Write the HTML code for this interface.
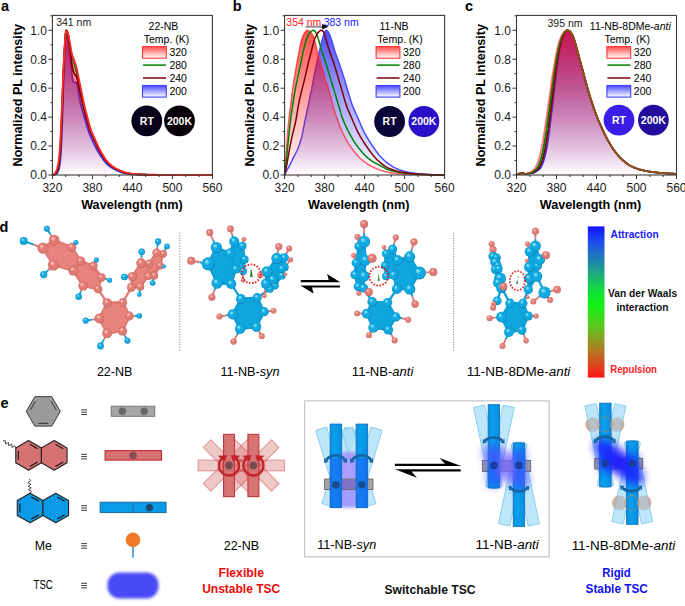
<!DOCTYPE html><html><head><meta charset="utf-8"><style>html,body{margin:0;padding:0;background:#fff;overflow:hidden;width:685px;height:606px;}svg text{font-family:"Liberation Sans",sans-serif;}</style></head><body><svg width="685" height="606" viewBox="0 0 685 606" style="display:block;font-family:'Liberation Sans',sans-serif">
<rect width="685" height="606" fill="#fff"/>
<defs>
<linearGradient id="gR" gradientUnits="userSpaceOnUse" x1="0" y1="30.30000000000001" x2="0" y2="175.0"><stop offset="0" stop-color="#ff0000" stop-opacity="0.69"/><stop offset="1" stop-color="#ff0000" stop-opacity="0.0"/></linearGradient>
<linearGradient id="gB" gradientUnits="userSpaceOnUse" x1="0" y1="30.30000000000001" x2="0" y2="175.0"><stop offset="0" stop-color="#0000ff" stop-opacity="0.69"/><stop offset="1" stop-color="#0000ff" stop-opacity="0.0"/></linearGradient>
<linearGradient id="lgR" x1="0" y1="0" x2="0" y2="1"><stop offset="0" stop-color="#ff4a4a"/><stop offset="1" stop-color="#fff"/></linearGradient>
<linearGradient id="lgB" x1="0" y1="0" x2="0" y2="1"><stop offset="0" stop-color="#4a4aff"/><stop offset="1" stop-color="#fff"/></linearGradient>
<radialGradient id="sp" cx="0.5" cy="0.5" fx="0.36" fy="0.3" r="0.55"><stop offset="0" stop-color="#ffd6ce"/><stop offset="0.42" stop-color="#e27a74"/><stop offset="0.8" stop-color="#e27a74"/><stop offset="1" stop-color="#9a4646"/></radialGradient>
<radialGradient id="sc" cx="0.5" cy="0.5" fx="0.36" fy="0.3" r="0.55"><stop offset="0" stop-color="#a0f0ff"/><stop offset="0.42" stop-color="#0fa8e0"/><stop offset="0.8" stop-color="#0fa8e0"/><stop offset="1" stop-color="#035a86"/></radialGradient>
<linearGradient id="vdw" x1="0" y1="0" x2="0" y2="1"><stop offset="0" stop-color="#1414ff"/><stop offset="0.12" stop-color="#1f55e6"/><stop offset="0.28" stop-color="#1f9a90"/><stop offset="0.42" stop-color="#12dc3c"/><stop offset="0.52" stop-color="#10f414"/><stop offset="0.66" stop-color="#5cc81e"/><stop offset="0.82" stop-color="#b27a22"/><stop offset="1" stop-color="#ff1818"/></linearGradient>
<filter id="blur1" x="-30%" y="-30%" width="160%" height="160%"><feGaussianBlur stdDeviation="1.8"/></filter>
<filter id="blur3" x="-50%" y="-50%" width="200%" height="200%"><feGaussianBlur stdDeviation="4"/></filter>
</defs>
<path d="M52.40,175.00 L53.07,174.96 L53.73,174.85 L54.40,174.71 L55.07,174.52 L55.73,174.24 L56.40,173.84 L57.07,173.17 L57.73,172.10 L58.40,170.66 L59.07,168.40 L59.73,164.87 L60.40,159.12 L61.07,150.40 L61.73,135.95 L62.40,117.12 L63.07,95.05 L63.73,73.71 L64.40,58.08 L65.07,44.77 L65.73,33.19 L66.40,30.30 L67.07,31.70 L67.73,34.64 L68.40,39.22 L69.07,45.74 L69.73,52.61 L70.40,58.98 L71.07,65.46 L71.73,72.54 L72.40,77.80 L73.07,80.94 L73.73,81.96 L74.40,82.34 L75.07,82.35 L75.73,82.25 L76.40,82.92 L77.07,84.38 L77.73,86.76 L78.40,91.53 L79.07,95.78 L79.73,99.42 L80.40,102.65 L81.07,105.45 L81.73,107.99 L82.40,110.39 L83.07,112.78 L83.73,115.19 L84.40,117.56 L85.07,119.89 L85.73,122.16 L86.40,124.36 L87.07,126.52 L87.73,128.66 L88.40,130.73 L89.07,132.69 L89.73,134.48 L90.40,136.11 L91.07,137.63 L91.73,139.06 L92.40,140.44 L93.07,141.80 L93.73,143.17 L94.40,144.56 L95.07,145.94 L95.73,147.31 L96.40,148.64 L97.07,149.92 L97.73,151.12 L98.40,152.26 L99.07,153.35 L99.73,154.40 L100.40,155.41 L101.07,156.39 L101.73,157.35 L102.40,158.30 L103.07,159.25 L103.73,160.19 L104.40,161.09 L105.07,161.94 L105.73,162.72 L106.40,163.42 L107.07,164.06 L107.73,164.66 L108.40,165.22 L109.07,165.76 L109.73,166.27 L110.40,166.75 L111.07,167.20 L111.73,167.64 L112.40,168.05 L113.07,168.45 L113.73,168.84 L114.40,169.21 L115.07,169.57 L115.73,169.91 L116.40,170.24 L117.07,170.55 L117.73,170.84 L118.40,171.12 L119.07,171.38 L119.73,171.63 L120.40,171.88 L121.07,172.12 L121.73,172.36 L122.40,172.58 L123.07,172.79 L123.73,172.98 L124.40,173.14 L125.07,173.29 L125.73,173.41 L126.40,173.51 L127.07,173.61 L127.73,173.70 L128.40,173.79 L129.07,173.87 L129.73,173.95 L130.40,174.02 L131.07,174.09 L131.73,174.15 L132.40,174.21 L133.07,174.26 L133.73,174.31 L134.40,174.35 L135.07,174.39 L135.73,174.42 L136.40,174.45 L137.07,174.48 L137.73,174.50 L138.40,174.53 L139.07,174.56 L139.73,174.58 L140.40,174.60 L141.07,174.62 L141.73,174.65 L142.40,174.67 L143.07,174.68 L143.73,174.70 L144.40,174.72 L145.07,174.74 L145.73,174.75 L146.40,174.77 L147.07,174.78 L147.73,174.79 L148.40,174.81 L149.07,174.82 L149.73,174.83 L150.40,174.83 L151.07,174.84 L151.73,174.85 L152.40,174.86 L153.07,174.86 L153.73,174.87 L154.40,174.87 L155.07,174.88 L155.73,174.88 L156.40,174.89 L157.07,174.89 L157.73,174.90 L158.40,174.90 L159.07,174.90 L159.73,174.91 L160.40,174.91 L161.07,174.92 L161.73,174.92 L162.40,174.93 L163.07,174.93 L163.73,174.93 L164.40,174.94 L165.07,174.94 L165.73,174.95 L166.40,174.95 L167.07,174.95 L167.73,174.96 L168.40,174.96 L169.07,174.96 L169.73,174.96 L170.40,174.97 L171.07,174.97 L171.73,174.97 L172.40,174.97 L173.07,174.98 L173.73,174.98 L174.40,174.98 L175.07,174.98 L175.73,174.99 L176.40,174.99 L177.07,174.99 L177.73,174.99 L178.40,174.99 L179.07,174.99 L179.73,174.99 L180.40,175.00 L181.07,175.00 L181.73,175.00 L182.40,175.00 L183.07,175.00 L183.73,175.00 L184.40,175.00 L185.07,175.00 L185.73,175.00 L186.40,175.00 L187.07,175.00 L187.73,175.00 L188.40,175.00 L189.07,175.00 L189.73,175.00 L190.40,175.00 L191.07,175.00 L191.73,175.00 L192.40,175.00 L193.07,175.00 L193.73,175.00 L194.40,175.00 L195.07,175.00 L195.73,175.00 L196.40,175.00 L197.07,175.00 L197.73,175.00 L198.40,175.00 L199.07,175.00 L199.73,175.00 L200.40,175.00 L201.07,175.00 L201.73,175.00 L202.40,175.00 L203.07,175.00 L203.73,175.00 L204.40,175.00 L205.07,175.00 L205.73,175.00 L206.40,175.00 L207.07,175.00 L207.73,175.00 L208.40,175.00 L209.07,175.00 L209.73,175.00 L210.40,175.00 L211.07,175.00 L211.73,175.00 L212.40,175.00 L212.40,175.0 L52.40,175.0 Z" fill="url(#gB)" stroke="none"/>
<path d="M52.40,175.00 L53.07,174.96 L53.73,174.85 L54.40,174.71 L55.07,174.52 L55.73,174.24 L56.40,173.84 L57.07,173.17 L57.73,172.10 L58.40,170.66 L59.07,168.40 L59.73,164.87 L60.40,159.12 L61.07,150.40 L61.73,135.95 L62.40,117.12 L63.07,95.05 L63.73,73.71 L64.40,58.08 L65.07,44.77 L65.73,33.19 L66.40,30.30 L67.07,31.70 L67.73,34.64 L68.40,39.22 L69.07,45.74 L69.73,52.61 L70.40,58.98 L71.07,65.46 L71.73,72.54 L72.40,77.80 L73.07,80.94 L73.73,81.96 L74.40,82.34 L75.07,82.35 L75.73,82.25 L76.40,82.92 L77.07,84.38 L77.73,86.76 L78.40,91.53 L79.07,95.78 L79.73,99.42 L80.40,102.65 L81.07,105.45 L81.73,107.99 L82.40,110.39 L83.07,112.78 L83.73,115.19 L84.40,117.56 L85.07,119.89 L85.73,122.16 L86.40,124.36 L87.07,126.52 L87.73,128.66 L88.40,130.73 L89.07,132.69 L89.73,134.48 L90.40,136.11 L91.07,137.63 L91.73,139.06 L92.40,140.44 L93.07,141.80 L93.73,143.17 L94.40,144.56 L95.07,145.94 L95.73,147.31 L96.40,148.64 L97.07,149.92 L97.73,151.12 L98.40,152.26 L99.07,153.35 L99.73,154.40 L100.40,155.41 L101.07,156.39 L101.73,157.35 L102.40,158.30 L103.07,159.25 L103.73,160.19 L104.40,161.09 L105.07,161.94 L105.73,162.72 L106.40,163.42 L107.07,164.06 L107.73,164.66 L108.40,165.22 L109.07,165.76 L109.73,166.27 L110.40,166.75 L111.07,167.20 L111.73,167.64 L112.40,168.05 L113.07,168.45 L113.73,168.84 L114.40,169.21 L115.07,169.57 L115.73,169.91 L116.40,170.24 L117.07,170.55 L117.73,170.84 L118.40,171.12 L119.07,171.38 L119.73,171.63 L120.40,171.88 L121.07,172.12 L121.73,172.36 L122.40,172.58 L123.07,172.79 L123.73,172.98 L124.40,173.14 L125.07,173.29 L125.73,173.41 L126.40,173.51 L127.07,173.61 L127.73,173.70 L128.40,173.79 L129.07,173.87 L129.73,173.95 L130.40,174.02 L131.07,174.09 L131.73,174.15 L132.40,174.21 L133.07,174.26 L133.73,174.31 L134.40,174.35 L135.07,174.39 L135.73,174.42 L136.40,174.45 L137.07,174.48 L137.73,174.50 L138.40,174.53 L139.07,174.56 L139.73,174.58 L140.40,174.60 L141.07,174.62 L141.73,174.65 L142.40,174.67 L143.07,174.68 L143.73,174.70 L144.40,174.72 L145.07,174.74 L145.73,174.75 L146.40,174.77 L147.07,174.78 L147.73,174.79 L148.40,174.81 L149.07,174.82 L149.73,174.83 L150.40,174.83 L151.07,174.84 L151.73,174.85 L152.40,174.86 L153.07,174.86 L153.73,174.87 L154.40,174.87 L155.07,174.88 L155.73,174.88 L156.40,174.89 L157.07,174.89 L157.73,174.90 L158.40,174.90 L159.07,174.90 L159.73,174.91 L160.40,174.91 L161.07,174.92 L161.73,174.92 L162.40,174.93 L163.07,174.93 L163.73,174.93 L164.40,174.94 L165.07,174.94 L165.73,174.95 L166.40,174.95 L167.07,174.95 L167.73,174.96 L168.40,174.96 L169.07,174.96 L169.73,174.96 L170.40,174.97 L171.07,174.97 L171.73,174.97 L172.40,174.97 L173.07,174.98 L173.73,174.98 L174.40,174.98 L175.07,174.98 L175.73,174.99 L176.40,174.99 L177.07,174.99 L177.73,174.99 L178.40,174.99 L179.07,174.99 L179.73,174.99 L180.40,175.00 L181.07,175.00 L181.73,175.00 L182.40,175.00 L183.07,175.00 L183.73,175.00 L184.40,175.00 L185.07,175.00 L185.73,175.00 L186.40,175.00 L187.07,175.00 L187.73,175.00 L188.40,175.00 L189.07,175.00 L189.73,175.00 L190.40,175.00 L191.07,175.00 L191.73,175.00 L192.40,175.00 L193.07,175.00 L193.73,175.00 L194.40,175.00 L195.07,175.00 L195.73,175.00 L196.40,175.00 L197.07,175.00 L197.73,175.00 L198.40,175.00 L199.07,175.00 L199.73,175.00 L200.40,175.00 L201.07,175.00 L201.73,175.00 L202.40,175.00 L203.07,175.00 L203.73,175.00 L204.40,175.00 L205.07,175.00 L205.73,175.00 L206.40,175.00 L207.07,175.00 L207.73,175.00 L208.40,175.00 L209.07,175.00 L209.73,175.00 L210.40,175.00 L211.07,175.00 L211.73,175.00 L212.40,175.00" fill="none" stroke="#3333ff" stroke-width="1.8" stroke-linejoin="round"/>
<path d="M52.40,175.00 L53.07,174.70 L53.73,174.28 L54.40,173.74 L55.07,173.03 L55.73,172.11 L56.40,170.75 L57.07,168.80 L57.73,166.32 L58.40,162.78 L59.07,157.64 L59.73,149.60 L60.40,138.82 L61.07,125.37 L61.73,109.89 L62.40,93.03 L63.07,76.60 L63.73,62.53 L64.40,50.56 L65.07,40.30 L65.73,33.19 L66.40,30.30 L67.07,31.00 L67.73,32.47 L68.40,34.76 L69.07,38.05 L69.73,41.62 L70.40,45.32 L71.07,49.44 L71.73,53.05 L72.40,55.49 L73.07,57.36 L73.73,59.11 L74.40,60.99 L75.07,62.82 L75.73,64.81 L76.40,67.12 L77.07,69.80 L77.73,72.86 L78.40,76.36 L79.07,79.63 L79.73,82.83 L80.40,86.08 L81.07,89.36 L81.73,92.63 L82.40,95.90 L83.07,99.23 L83.73,102.50 L84.40,105.54 L85.07,108.34 L85.73,111.00 L86.40,113.54 L87.07,116.02 L87.73,118.46 L88.40,120.91 L89.07,123.40 L89.73,125.83 L90.40,128.11 L91.07,130.14 L91.73,131.92 L92.40,133.54 L93.07,135.04 L93.73,136.49 L94.40,137.93 L95.07,139.41 L95.73,140.93 L96.40,142.46 L97.07,143.98 L97.73,145.46 L98.40,146.88 L99.07,148.23 L99.73,149.51 L100.40,150.74 L101.07,151.92 L101.73,153.07 L102.40,154.17 L103.07,155.24 L103.73,156.31 L104.40,157.37 L105.07,158.41 L105.73,159.41 L106.40,160.34 L107.07,161.21 L107.73,161.98 L108.40,162.67 L109.07,163.33 L109.73,163.95 L110.40,164.54 L111.07,165.09 L111.73,165.62 L112.40,166.12 L113.07,166.59 L113.73,167.04 L114.40,167.48 L115.07,167.90 L115.73,168.31 L116.40,168.70 L117.07,169.07 L117.73,169.43 L118.40,169.77 L119.07,170.09 L119.73,170.38 L120.40,170.66 L121.07,170.92 L121.73,171.17 L122.40,171.41 L123.07,171.65 L123.73,171.87 L124.40,172.08 L125.07,172.28 L125.73,172.46 L126.40,172.63 L127.07,172.79 L127.73,172.93 L128.40,173.06 L129.07,173.20 L129.73,173.32 L130.40,173.45 L131.07,173.56 L131.73,173.67 L132.40,173.78 L133.07,173.87 L133.73,173.95 L134.40,174.02 L135.07,174.08 L135.73,174.13 L136.40,174.17 L137.07,174.21 L137.73,174.25 L138.40,174.28 L139.07,174.31 L139.73,174.35 L140.40,174.38 L141.07,174.40 L141.73,174.43 L142.40,174.46 L143.07,174.48 L143.73,174.51 L144.40,174.53 L145.07,174.55 L145.73,174.57 L146.40,174.59 L147.07,174.60 L147.73,174.62 L148.40,174.64 L149.07,174.65 L149.73,174.66 L150.40,174.68 L151.07,174.69 L151.73,174.70 L152.40,174.71 L153.07,174.72 L153.73,174.73 L154.40,174.74 L155.07,174.75 L155.73,174.76 L156.40,174.77 L157.07,174.78 L157.73,174.79 L158.40,174.80 L159.07,174.80 L159.73,174.81 L160.40,174.82 L161.07,174.83 L161.73,174.84 L162.40,174.85 L163.07,174.85 L163.73,174.86 L164.40,174.87 L165.07,174.88 L165.73,174.88 L166.40,174.89 L167.07,174.90 L167.73,174.90 L168.40,174.91 L169.07,174.92 L169.73,174.92 L170.40,174.93 L171.07,174.94 L171.73,174.94 L172.40,174.95 L173.07,174.95 L173.73,174.96 L174.40,174.96 L175.07,174.96 L175.73,174.97 L176.40,174.97 L177.07,174.98 L177.73,174.98 L178.40,174.98 L179.07,174.99 L179.73,174.99 L180.40,174.99 L181.07,174.99 L181.73,174.99 L182.40,175.00 L183.07,175.00 L183.73,175.00 L184.40,175.00 L185.07,175.00 L185.73,175.00 L186.40,175.00 L187.07,175.00 L187.73,175.00 L188.40,175.00 L189.07,175.00 L189.73,175.00 L190.40,175.00 L191.07,175.00 L191.73,175.00 L192.40,175.00 L193.07,175.00 L193.73,175.00 L194.40,175.00 L195.07,175.00 L195.73,175.00 L196.40,175.00 L197.07,175.00 L197.73,175.00 L198.40,175.00 L199.07,175.00 L199.73,175.00 L200.40,175.00 L201.07,175.00 L201.73,175.00 L202.40,175.00 L203.07,175.00 L203.73,175.00 L204.40,175.00 L205.07,175.00 L205.73,175.00 L206.40,175.00 L207.07,175.00 L207.73,175.00 L208.40,175.00 L209.07,175.00 L209.73,175.00 L210.40,175.00 L211.07,175.00 L211.73,175.00 L212.40,175.00 L212.40,175.0 L52.40,175.0 Z" fill="url(#gR)" stroke="none"/>
<path d="M52.40,175.00 L53.07,174.82 L53.73,174.57 L54.40,174.25 L55.07,173.83 L55.73,173.26 L56.40,172.37 L57.07,171.02 L57.73,169.21 L58.40,166.33 L59.07,161.98 L59.73,155.34 L60.40,146.06 L61.07,132.97 L61.73,117.12 L62.40,99.86 L63.07,82.39 L63.73,66.05 L64.40,52.01 L65.07,40.74 L65.73,33.19 L66.40,30.30 L67.07,31.24 L67.73,33.19 L68.40,36.25 L69.07,40.51 L69.73,44.77 L70.40,49.04 L71.07,53.31 L71.73,56.35 L72.40,57.84 L73.07,59.04 L73.73,60.97 L74.40,63.68 L75.07,66.31 L75.73,68.88 L76.40,71.52 L77.07,74.20 L77.73,77.04 L78.40,80.22 L79.07,83.46 L79.73,86.55 L80.40,89.61 L81.07,92.69 L81.73,95.87 L82.40,99.20 L83.07,102.49 L83.73,105.54 L84.40,108.30 L85.07,110.90 L85.73,113.39 L86.40,115.81 L87.07,118.22 L87.73,120.68 L88.40,123.22 L89.07,125.73 L89.73,128.08 L90.40,130.14 L91.07,131.91 L91.73,133.50 L92.40,134.98 L93.07,136.39 L93.73,137.80 L94.40,139.26 L95.07,140.79 L95.73,142.35 L96.40,143.91 L97.07,145.43 L97.73,146.88 L98.40,148.23 L99.07,149.48 L99.73,150.67 L100.40,151.80 L101.07,152.90 L101.73,153.97 L102.40,155.03 L103.07,156.11 L103.73,157.19 L104.40,158.27 L105.07,159.31 L105.73,160.29 L106.40,161.19 L107.07,161.98 L107.73,162.68 L108.40,163.34 L109.07,163.96 L109.73,164.55 L110.40,165.10 L111.07,165.62 L111.73,166.12 L112.40,166.59 L113.07,167.04 L113.73,167.48 L114.40,167.89 L115.07,168.30 L115.73,168.69 L116.40,169.06 L117.07,169.41 L117.73,169.75 L118.40,170.07 L119.07,170.37 L119.73,170.66 L120.40,170.93 L121.07,171.20 L121.73,171.46 L122.40,171.71 L123.07,171.95 L123.73,172.18 L124.40,172.39 L125.07,172.58 L125.73,172.75 L126.40,172.90 L127.07,173.04 L127.73,173.17 L128.40,173.30 L129.07,173.43 L129.73,173.55 L130.40,173.66 L131.07,173.76 L131.73,173.86 L132.40,173.95 L133.07,174.04 L133.73,174.11 L134.40,174.18 L135.07,174.23 L135.73,174.28 L136.40,174.32 L137.07,174.35 L137.73,174.39 L138.40,174.43 L139.07,174.46 L139.73,174.49 L140.40,174.52 L141.07,174.55 L141.73,174.58 L142.40,174.61 L143.07,174.64 L143.73,174.66 L144.40,174.68 L145.07,174.71 L145.73,174.73 L146.40,174.75 L147.07,174.76 L147.73,174.78 L148.40,174.80 L149.07,174.81 L149.73,174.82 L150.40,174.83 L151.07,174.84 L151.73,174.85 L152.40,174.86 L153.07,174.86 L153.73,174.87 L154.40,174.87 L155.07,174.88 L155.73,174.88 L156.40,174.89 L157.07,174.89 L157.73,174.90 L158.40,174.90 L159.07,174.91 L159.73,174.91 L160.40,174.92 L161.07,174.92 L161.73,174.92 L162.40,174.93 L163.07,174.93 L163.73,174.94 L164.40,174.94 L165.07,174.94 L165.73,174.95 L166.40,174.95 L167.07,174.95 L167.73,174.96 L168.40,174.96 L169.07,174.96 L169.73,174.97 L170.40,174.97 L171.07,174.97 L171.73,174.97 L172.40,174.98 L173.07,174.98 L173.73,174.98 L174.40,174.98 L175.07,174.98 L175.73,174.99 L176.40,174.99 L177.07,174.99 L177.73,174.99 L178.40,174.99 L179.07,174.99 L179.73,175.00 L180.40,175.00 L181.07,175.00 L181.73,175.00 L182.40,175.00 L183.07,175.00 L183.73,175.00 L184.40,175.00 L185.07,175.00 L185.73,175.00 L186.40,175.00 L187.07,175.00 L187.73,175.00 L188.40,175.00 L189.07,175.00 L189.73,175.00 L190.40,175.00 L191.07,175.00 L191.73,175.00 L192.40,175.00 L193.07,175.00 L193.73,175.00 L194.40,175.00 L195.07,175.00 L195.73,175.00 L196.40,175.00 L197.07,175.00 L197.73,175.00 L198.40,175.00 L199.07,175.00 L199.73,175.00 L200.40,175.00 L201.07,175.00 L201.73,175.00 L202.40,175.00 L203.07,175.00 L203.73,175.00 L204.40,175.00 L205.07,175.00 L205.73,175.00 L206.40,175.00 L207.07,175.00 L207.73,175.00 L208.40,175.00 L209.07,175.00 L209.73,175.00 L210.40,175.00 L211.07,175.00 L211.73,175.00 L212.40,175.00" fill="none" stroke="#008000" stroke-width="1.8" stroke-linejoin="round"/>
<path d="M52.40,175.00 L53.07,174.81 L53.73,174.57 L54.40,174.30 L55.07,173.99 L55.73,173.55 L56.40,172.78 L57.07,171.56 L57.73,169.94 L58.40,167.35 L59.07,163.42 L59.73,157.48 L60.40,148.95 L61.07,136.09 L61.73,120.01 L62.40,102.14 L63.07,83.84 L63.73,66.64 L64.40,52.01 L65.07,40.69 L65.73,33.19 L66.40,30.30 L67.07,31.22 L67.73,33.19 L68.40,36.45 L69.07,40.95 L69.73,45.45 L70.40,50.40 L71.07,56.97 L71.73,64.08 L72.40,67.92 L73.07,70.62 L73.73,72.52 L74.40,73.93 L75.07,74.79 L75.73,75.30 L76.40,76.12 L77.07,78.22 L77.73,80.88 L78.40,84.10 L79.07,87.37 L79.73,90.57 L80.40,93.76 L81.07,96.86 L81.73,99.86 L82.40,102.79 L83.07,105.62 L83.73,108.33 L84.40,110.95 L85.07,113.50 L85.73,115.97 L86.40,118.39 L87.07,120.74 L87.73,123.07 L88.40,125.39 L89.07,127.63 L89.73,129.71 L90.40,131.59 L91.07,133.25 L91.73,134.75 L92.40,136.16 L93.07,137.51 L93.73,138.87 L94.40,140.27 L95.07,141.74 L95.73,143.24 L96.40,144.74 L97.07,146.22 L97.73,147.63 L98.40,148.95 L99.07,150.20 L99.73,151.39 L100.40,152.54 L101.07,153.65 L101.73,154.72 L102.40,155.75 L103.07,156.78 L103.73,157.80 L104.40,158.80 L105.07,159.76 L105.73,160.67 L106.40,161.51 L107.07,162.27 L107.73,162.96 L108.40,163.61 L109.07,164.23 L109.73,164.82 L110.40,165.37 L111.07,165.90 L111.73,166.40 L112.40,166.88 L113.07,167.33 L113.73,167.77 L114.40,168.19 L115.07,168.59 L115.73,168.98 L116.40,169.35 L117.07,169.71 L117.73,170.05 L118.40,170.37 L119.07,170.67 L119.73,170.95 L120.40,171.22 L121.07,171.48 L121.73,171.74 L122.40,171.99 L123.07,172.22 L123.73,172.44 L124.40,172.64 L125.07,172.82 L125.73,172.98 L126.40,173.12 L127.07,173.24 L127.73,173.35 L128.40,173.46 L129.07,173.57 L129.73,173.67 L130.40,173.76 L131.07,173.85 L131.73,173.93 L132.40,174.00 L133.07,174.07 L133.73,174.13 L134.40,174.19 L135.07,174.23 L135.73,174.28 L136.40,174.31 L137.07,174.35 L137.73,174.39 L138.40,174.42 L139.07,174.45 L139.73,174.49 L140.40,174.52 L141.07,174.55 L141.73,174.58 L142.40,174.60 L143.07,174.63 L143.73,174.66 L144.40,174.68 L145.07,174.70 L145.73,174.72 L146.40,174.74 L147.07,174.76 L147.73,174.78 L148.40,174.79 L149.07,174.81 L149.73,174.82 L150.40,174.83 L151.07,174.84 L151.73,174.85 L152.40,174.86 L153.07,174.86 L153.73,174.87 L154.40,174.87 L155.07,174.88 L155.73,174.88 L156.40,174.89 L157.07,174.89 L157.73,174.90 L158.40,174.90 L159.07,174.91 L159.73,174.91 L160.40,174.92 L161.07,174.92 L161.73,174.92 L162.40,174.93 L163.07,174.93 L163.73,174.94 L164.40,174.94 L165.07,174.94 L165.73,174.95 L166.40,174.95 L167.07,174.95 L167.73,174.96 L168.40,174.96 L169.07,174.96 L169.73,174.97 L170.40,174.97 L171.07,174.97 L171.73,174.97 L172.40,174.98 L173.07,174.98 L173.73,174.98 L174.40,174.98 L175.07,174.98 L175.73,174.99 L176.40,174.99 L177.07,174.99 L177.73,174.99 L178.40,174.99 L179.07,174.99 L179.73,175.00 L180.40,175.00 L181.07,175.00 L181.73,175.00 L182.40,175.00 L183.07,175.00 L183.73,175.00 L184.40,175.00 L185.07,175.00 L185.73,175.00 L186.40,175.00 L187.07,175.00 L187.73,175.00 L188.40,175.00 L189.07,175.00 L189.73,175.00 L190.40,175.00 L191.07,175.00 L191.73,175.00 L192.40,175.00 L193.07,175.00 L193.73,175.00 L194.40,175.00 L195.07,175.00 L195.73,175.00 L196.40,175.00 L197.07,175.00 L197.73,175.00 L198.40,175.00 L199.07,175.00 L199.73,175.00 L200.40,175.00 L201.07,175.00 L201.73,175.00 L202.40,175.00 L203.07,175.00 L203.73,175.00 L204.40,175.00 L205.07,175.00 L205.73,175.00 L206.40,175.00 L207.07,175.00 L207.73,175.00 L208.40,175.00 L209.07,175.00 L209.73,175.00 L210.40,175.00 L211.07,175.00 L211.73,175.00 L212.40,175.00" fill="none" stroke="#800000" stroke-width="1.8" stroke-linejoin="round"/>
<path d="M52.40,175.00 L53.07,174.70 L53.73,174.28 L54.40,173.74 L55.07,173.03 L55.73,172.11 L56.40,170.75 L57.07,168.80 L57.73,166.32 L58.40,162.78 L59.07,157.64 L59.73,149.60 L60.40,138.82 L61.07,125.37 L61.73,109.89 L62.40,93.03 L63.07,76.60 L63.73,62.53 L64.40,50.56 L65.07,40.30 L65.73,33.19 L66.40,30.30 L67.07,31.00 L67.73,32.47 L68.40,34.76 L69.07,38.05 L69.73,41.62 L70.40,45.32 L71.07,49.44 L71.73,53.05 L72.40,55.49 L73.07,57.36 L73.73,59.11 L74.40,60.99 L75.07,62.82 L75.73,64.81 L76.40,67.12 L77.07,69.80 L77.73,72.86 L78.40,76.36 L79.07,79.63 L79.73,82.83 L80.40,86.08 L81.07,89.36 L81.73,92.63 L82.40,95.90 L83.07,99.23 L83.73,102.50 L84.40,105.54 L85.07,108.34 L85.73,111.00 L86.40,113.54 L87.07,116.02 L87.73,118.46 L88.40,120.91 L89.07,123.40 L89.73,125.83 L90.40,128.11 L91.07,130.14 L91.73,131.92 L92.40,133.54 L93.07,135.04 L93.73,136.49 L94.40,137.93 L95.07,139.41 L95.73,140.93 L96.40,142.46 L97.07,143.98 L97.73,145.46 L98.40,146.88 L99.07,148.23 L99.73,149.51 L100.40,150.74 L101.07,151.92 L101.73,153.07 L102.40,154.17 L103.07,155.24 L103.73,156.31 L104.40,157.37 L105.07,158.41 L105.73,159.41 L106.40,160.34 L107.07,161.21 L107.73,161.98 L108.40,162.67 L109.07,163.33 L109.73,163.95 L110.40,164.54 L111.07,165.09 L111.73,165.62 L112.40,166.12 L113.07,166.59 L113.73,167.04 L114.40,167.48 L115.07,167.90 L115.73,168.31 L116.40,168.70 L117.07,169.07 L117.73,169.43 L118.40,169.77 L119.07,170.09 L119.73,170.38 L120.40,170.66 L121.07,170.92 L121.73,171.17 L122.40,171.41 L123.07,171.65 L123.73,171.87 L124.40,172.08 L125.07,172.28 L125.73,172.46 L126.40,172.63 L127.07,172.79 L127.73,172.93 L128.40,173.06 L129.07,173.20 L129.73,173.32 L130.40,173.45 L131.07,173.56 L131.73,173.67 L132.40,173.78 L133.07,173.87 L133.73,173.95 L134.40,174.02 L135.07,174.08 L135.73,174.13 L136.40,174.17 L137.07,174.21 L137.73,174.25 L138.40,174.28 L139.07,174.31 L139.73,174.35 L140.40,174.38 L141.07,174.40 L141.73,174.43 L142.40,174.46 L143.07,174.48 L143.73,174.51 L144.40,174.53 L145.07,174.55 L145.73,174.57 L146.40,174.59 L147.07,174.60 L147.73,174.62 L148.40,174.64 L149.07,174.65 L149.73,174.66 L150.40,174.68 L151.07,174.69 L151.73,174.70 L152.40,174.71 L153.07,174.72 L153.73,174.73 L154.40,174.74 L155.07,174.75 L155.73,174.76 L156.40,174.77 L157.07,174.78 L157.73,174.79 L158.40,174.80 L159.07,174.80 L159.73,174.81 L160.40,174.82 L161.07,174.83 L161.73,174.84 L162.40,174.85 L163.07,174.85 L163.73,174.86 L164.40,174.87 L165.07,174.88 L165.73,174.88 L166.40,174.89 L167.07,174.90 L167.73,174.90 L168.40,174.91 L169.07,174.92 L169.73,174.92 L170.40,174.93 L171.07,174.94 L171.73,174.94 L172.40,174.95 L173.07,174.95 L173.73,174.96 L174.40,174.96 L175.07,174.96 L175.73,174.97 L176.40,174.97 L177.07,174.98 L177.73,174.98 L178.40,174.98 L179.07,174.99 L179.73,174.99 L180.40,174.99 L181.07,174.99 L181.73,174.99 L182.40,175.00 L183.07,175.00 L183.73,175.00 L184.40,175.00 L185.07,175.00 L185.73,175.00 L186.40,175.00 L187.07,175.00 L187.73,175.00 L188.40,175.00 L189.07,175.00 L189.73,175.00 L190.40,175.00 L191.07,175.00 L191.73,175.00 L192.40,175.00 L193.07,175.00 L193.73,175.00 L194.40,175.00 L195.07,175.00 L195.73,175.00 L196.40,175.00 L197.07,175.00 L197.73,175.00 L198.40,175.00 L199.07,175.00 L199.73,175.00 L200.40,175.00 L201.07,175.00 L201.73,175.00 L202.40,175.00 L203.07,175.00 L203.73,175.00 L204.40,175.00 L205.07,175.00 L205.73,175.00 L206.40,175.00 L207.07,175.00 L207.73,175.00 L208.40,175.00 L209.07,175.00 L209.73,175.00 L210.40,175.00 L211.07,175.00 L211.73,175.00 L212.40,175.00" fill="none" stroke="#ff2a2a" stroke-width="1.8" stroke-linejoin="round" stroke-opacity="1.0"/>
<rect x="52.4" y="15.4" width="160" height="159.6" fill="none" stroke="#3a3a3a" stroke-width="1.1"/>
<line x1="52.40" y1="175.0" x2="52.40" y2="179.0" stroke="#333" stroke-width="1"/>
<text x="52.40" y="191.8" font-size="12" text-anchor="middle" fill="#1a1a1a">320</text>
<line x1="65.73" y1="175.0" x2="65.73" y2="177.0" stroke="#333" stroke-width="1"/>
<line x1="79.07" y1="175.0" x2="79.07" y2="177.0" stroke="#333" stroke-width="1"/>
<line x1="92.40" y1="175.0" x2="92.40" y2="179.0" stroke="#333" stroke-width="1"/>
<text x="92.40" y="191.8" font-size="12" text-anchor="middle" fill="#1a1a1a">380</text>
<line x1="105.73" y1="175.0" x2="105.73" y2="177.0" stroke="#333" stroke-width="1"/>
<line x1="119.07" y1="175.0" x2="119.07" y2="177.0" stroke="#333" stroke-width="1"/>
<line x1="132.40" y1="175.0" x2="132.40" y2="179.0" stroke="#333" stroke-width="1"/>
<text x="132.40" y="191.8" font-size="12" text-anchor="middle" fill="#1a1a1a">440</text>
<line x1="145.73" y1="175.0" x2="145.73" y2="177.0" stroke="#333" stroke-width="1"/>
<line x1="159.07" y1="175.0" x2="159.07" y2="177.0" stroke="#333" stroke-width="1"/>
<line x1="172.40" y1="175.0" x2="172.40" y2="179.0" stroke="#333" stroke-width="1"/>
<text x="172.40" y="191.8" font-size="12" text-anchor="middle" fill="#1a1a1a">500</text>
<line x1="185.73" y1="175.0" x2="185.73" y2="177.0" stroke="#333" stroke-width="1"/>
<line x1="199.07" y1="175.0" x2="199.07" y2="177.0" stroke="#333" stroke-width="1"/>
<line x1="212.40" y1="175.0" x2="212.40" y2="179.0" stroke="#333" stroke-width="1"/>
<text x="212.40" y="191.8" font-size="12" text-anchor="middle" fill="#1a1a1a">560</text>
<line x1="48.4" y1="175.00" x2="52.4" y2="175.00" stroke="#333" stroke-width="1"/>
<text x="46.9" y="179.30" font-size="12" text-anchor="end" fill="#1a1a1a">0.0</text>
<line x1="50.4" y1="160.53" x2="52.4" y2="160.53" stroke="#333" stroke-width="1"/>
<line x1="48.4" y1="146.06" x2="52.4" y2="146.06" stroke="#333" stroke-width="1"/>
<text x="46.9" y="150.36" font-size="12" text-anchor="end" fill="#1a1a1a">0.2</text>
<line x1="50.4" y1="131.59" x2="52.4" y2="131.59" stroke="#333" stroke-width="1"/>
<line x1="48.4" y1="117.12" x2="52.4" y2="117.12" stroke="#333" stroke-width="1"/>
<text x="46.9" y="121.42" font-size="12" text-anchor="end" fill="#1a1a1a">0.4</text>
<line x1="50.4" y1="102.65" x2="52.4" y2="102.65" stroke="#333" stroke-width="1"/>
<line x1="48.4" y1="88.18" x2="52.4" y2="88.18" stroke="#333" stroke-width="1"/>
<text x="46.9" y="92.48" font-size="12" text-anchor="end" fill="#1a1a1a">0.6</text>
<line x1="50.4" y1="73.71" x2="52.4" y2="73.71" stroke="#333" stroke-width="1"/>
<line x1="48.4" y1="59.24" x2="52.4" y2="59.24" stroke="#333" stroke-width="1"/>
<text x="46.9" y="63.54" font-size="12" text-anchor="end" fill="#1a1a1a">0.8</text>
<line x1="50.4" y1="44.77" x2="52.4" y2="44.77" stroke="#333" stroke-width="1"/>
<line x1="48.4" y1="30.30" x2="52.4" y2="30.30" stroke="#333" stroke-width="1"/>
<text x="46.9" y="34.60" font-size="12" text-anchor="end" fill="#1a1a1a">1.0</text>
<line x1="50.4" y1="15.83" x2="52.4" y2="15.83" stroke="#333" stroke-width="1"/>
<text x="131.9" y="209" font-size="12.6" text-anchor="middle" font-weight="bold" fill="#000" textLength="101.5" lengthAdjust="spacingAndGlyphs">Wavelength (nm)</text>
<text x="0" y="0" font-size="12.6" font-weight="bold" text-anchor="middle" textLength="142.5" lengthAdjust="spacingAndGlyphs" transform="translate(21.9,95.2) rotate(-90)">Normalized PL intensity</text>
<text x="0.8999999999999986" y="10.8" font-size="14.5" font-weight="bold" fill="#000">a</text>
<text x="56.2" y="25.8" font-size="10.5" fill="#1a1a1a">341 nm</text>
<text x="163.5" y="30" font-size="10.5" text-anchor="middle">22-NB</text>
<text x="166.5" y="43.0" font-size="10.5" text-anchor="middle" fill="#000">Temp. (K)</text>
<rect x="142.5" y="46.6" width="23.8" height="11.6" fill="url(#lgR)" stroke="#ff3a3a" stroke-width="1.1"/>
<text x="169.4" y="56.0" font-size="10.5" fill="#000">320</text>
<line x1="143.0" y1="65.1" x2="166.0" y2="65.1" stroke="#008000" stroke-width="1.5"/>
<text x="169.4" y="68.9" font-size="10.5" fill="#000">280</text>
<line x1="143.0" y1="78.0" x2="166.0" y2="78.0" stroke="#800000" stroke-width="1.5"/>
<text x="169.4" y="81.8" font-size="10.5" fill="#000">240</text>
<rect x="142.5" y="85.5" width="23.8" height="11.6" fill="url(#lgB)" stroke="#4040ff" stroke-width="1.1"/>
<text x="169.4" y="95.0" font-size="10.5" fill="#000">200</text>
<circle cx="146.8" cy="120.8" r="15.4" fill="#07021a"/>
<text x="146.8" y="124.7" font-size="10.5" text-anchor="middle" font-weight="bold" fill="#fff">RT</text>
<circle cx="179.5" cy="120.8" r="15.4" fill="#050006"/>
<text x="179.5" y="124.7" font-size="10.5" text-anchor="middle" font-weight="bold" fill="#fff">200K</text>
<path d="M284.60,175.00 L285.27,173.49 L285.93,172.06 L286.60,170.74 L287.27,169.55 L287.93,168.43 L288.60,167.32 L289.27,166.16 L289.93,164.90 L290.60,163.49 L291.27,162.00 L291.93,160.50 L292.60,159.08 L293.27,157.79 L293.93,156.58 L294.60,155.41 L295.27,154.22 L295.93,152.96 L296.60,151.57 L297.27,150.05 L297.93,148.44 L298.60,146.73 L299.27,144.91 L299.93,142.95 L300.60,140.84 L301.27,138.55 L301.93,136.02 L302.60,132.90 L303.27,129.37 L303.93,125.77 L304.60,122.41 L305.27,119.26 L305.93,116.18 L306.60,113.12 L307.27,110.02 L307.93,106.83 L308.60,103.52 L309.27,100.20 L309.93,96.96 L310.60,93.97 L311.27,91.07 L311.93,87.67 L312.60,83.96 L313.27,80.23 L313.93,76.75 L314.60,73.44 L315.27,70.23 L315.93,67.08 L316.60,63.97 L317.27,60.89 L317.93,57.85 L318.60,54.87 L319.27,51.99 L319.93,49.19 L320.60,46.42 L321.27,43.72 L321.93,41.14 L322.60,38.72 L323.27,36.36 L323.93,34.11 L324.60,32.47 L325.27,31.34 L325.93,30.51 L326.60,30.33 L327.27,30.80 L327.93,31.60 L328.60,32.54 L329.27,33.88 L329.93,35.54 L330.60,37.35 L331.27,39.20 L331.93,41.26 L332.60,43.51 L333.27,45.84 L333.93,48.16 L334.60,50.38 L335.27,52.43 L335.93,54.37 L336.60,56.24 L337.27,58.08 L337.93,59.90 L338.60,61.74 L339.27,63.63 L339.93,65.57 L340.60,67.54 L341.27,69.52 L341.93,71.53 L342.60,73.57 L343.27,75.65 L343.93,77.76 L344.60,79.94 L345.27,82.19 L345.93,84.47 L346.60,86.76 L347.27,89.02 L347.93,91.24 L348.60,93.48 L349.27,95.74 L349.93,97.97 L350.60,100.14 L351.27,102.19 L351.93,104.10 L352.60,105.86 L353.27,107.52 L353.93,109.10 L354.60,110.62 L355.27,112.10 L355.93,113.56 L356.60,115.02 L357.27,116.49 L357.93,117.99 L358.60,119.53 L359.27,121.10 L359.93,122.68 L360.60,124.27 L361.27,125.83 L361.93,127.36 L362.60,128.86 L363.27,130.29 L363.93,131.65 L364.60,132.93 L365.27,134.17 L365.93,135.38 L366.60,136.55 L367.27,137.70 L367.93,138.81 L368.60,139.90 L369.27,140.97 L369.93,142.02 L370.60,143.05 L371.27,144.06 L371.93,145.07 L372.60,146.06 L373.27,147.05 L373.93,148.03 L374.60,149.00 L375.27,149.95 L375.93,150.89 L376.60,151.81 L377.27,152.71 L377.93,153.58 L378.60,154.41 L379.27,155.21 L379.93,155.97 L380.60,156.70 L381.27,157.41 L381.93,158.11 L382.60,158.79 L383.27,159.45 L383.93,160.08 L384.60,160.70 L385.27,161.29 L385.93,161.86 L386.60,162.41 L387.27,162.93 L387.93,163.42 L388.60,163.90 L389.27,164.37 L389.93,164.83 L390.60,165.28 L391.27,165.71 L391.93,166.14 L392.60,166.55 L393.27,166.94 L393.93,167.32 L394.60,167.69 L395.27,168.03 L395.93,168.36 L396.60,168.67 L397.27,168.95 L397.93,169.21 L398.60,169.46 L399.27,169.70 L399.93,169.94 L400.60,170.17 L401.27,170.39 L401.93,170.61 L402.60,170.82 L403.27,171.02 L403.93,171.22 L404.60,171.41 L405.27,171.59 L405.93,171.76 L406.60,171.93 L407.27,172.08 L407.93,172.23 L408.60,172.37 L409.27,172.50 L409.93,172.62 L410.60,172.73 L411.27,172.83 L411.93,172.92 L412.60,173.02 L413.27,173.10 L413.93,173.19 L414.60,173.27 L415.27,173.36 L415.93,173.43 L416.60,173.51 L417.27,173.58 L417.93,173.65 L418.60,173.72 L419.27,173.79 L419.93,173.85 L420.60,173.91 L421.27,173.97 L421.93,174.02 L422.60,174.08 L423.27,174.13 L423.93,174.18 L424.60,174.22 L425.27,174.27 L425.93,174.31 L426.60,174.35 L427.27,174.39 L427.93,174.42 L428.60,174.46 L429.27,174.49 L429.93,174.52 L430.60,174.56 L431.27,174.59 L431.93,174.62 L432.60,174.65 L433.27,174.68 L433.93,174.71 L434.60,174.74 L435.27,174.77 L435.93,174.79 L436.60,174.82 L437.27,174.84 L437.93,174.87 L438.60,174.89 L439.27,174.91 L439.93,174.93 L440.60,174.94 L441.27,174.96 L441.93,174.97 L442.60,174.98 L443.27,174.99 L443.93,175.00 L444.60,175.00 L444.60,175.0 L284.60,175.0 Z" fill="url(#gB)" stroke="none"/>
<path d="M284.60,175.00 L285.27,173.49 L285.93,172.06 L286.60,170.74 L287.27,169.55 L287.93,168.43 L288.60,167.32 L289.27,166.16 L289.93,164.90 L290.60,163.49 L291.27,162.00 L291.93,160.50 L292.60,159.08 L293.27,157.79 L293.93,156.58 L294.60,155.41 L295.27,154.22 L295.93,152.96 L296.60,151.57 L297.27,150.05 L297.93,148.44 L298.60,146.73 L299.27,144.91 L299.93,142.95 L300.60,140.84 L301.27,138.55 L301.93,136.02 L302.60,132.90 L303.27,129.37 L303.93,125.77 L304.60,122.41 L305.27,119.26 L305.93,116.18 L306.60,113.12 L307.27,110.02 L307.93,106.83 L308.60,103.52 L309.27,100.20 L309.93,96.96 L310.60,93.97 L311.27,91.07 L311.93,87.67 L312.60,83.96 L313.27,80.23 L313.93,76.75 L314.60,73.44 L315.27,70.23 L315.93,67.08 L316.60,63.97 L317.27,60.89 L317.93,57.85 L318.60,54.87 L319.27,51.99 L319.93,49.19 L320.60,46.42 L321.27,43.72 L321.93,41.14 L322.60,38.72 L323.27,36.36 L323.93,34.11 L324.60,32.47 L325.27,31.34 L325.93,30.51 L326.60,30.33 L327.27,30.80 L327.93,31.60 L328.60,32.54 L329.27,33.88 L329.93,35.54 L330.60,37.35 L331.27,39.20 L331.93,41.26 L332.60,43.51 L333.27,45.84 L333.93,48.16 L334.60,50.38 L335.27,52.43 L335.93,54.37 L336.60,56.24 L337.27,58.08 L337.93,59.90 L338.60,61.74 L339.27,63.63 L339.93,65.57 L340.60,67.54 L341.27,69.52 L341.93,71.53 L342.60,73.57 L343.27,75.65 L343.93,77.76 L344.60,79.94 L345.27,82.19 L345.93,84.47 L346.60,86.76 L347.27,89.02 L347.93,91.24 L348.60,93.48 L349.27,95.74 L349.93,97.97 L350.60,100.14 L351.27,102.19 L351.93,104.10 L352.60,105.86 L353.27,107.52 L353.93,109.10 L354.60,110.62 L355.27,112.10 L355.93,113.56 L356.60,115.02 L357.27,116.49 L357.93,117.99 L358.60,119.53 L359.27,121.10 L359.93,122.68 L360.60,124.27 L361.27,125.83 L361.93,127.36 L362.60,128.86 L363.27,130.29 L363.93,131.65 L364.60,132.93 L365.27,134.17 L365.93,135.38 L366.60,136.55 L367.27,137.70 L367.93,138.81 L368.60,139.90 L369.27,140.97 L369.93,142.02 L370.60,143.05 L371.27,144.06 L371.93,145.07 L372.60,146.06 L373.27,147.05 L373.93,148.03 L374.60,149.00 L375.27,149.95 L375.93,150.89 L376.60,151.81 L377.27,152.71 L377.93,153.58 L378.60,154.41 L379.27,155.21 L379.93,155.97 L380.60,156.70 L381.27,157.41 L381.93,158.11 L382.60,158.79 L383.27,159.45 L383.93,160.08 L384.60,160.70 L385.27,161.29 L385.93,161.86 L386.60,162.41 L387.27,162.93 L387.93,163.42 L388.60,163.90 L389.27,164.37 L389.93,164.83 L390.60,165.28 L391.27,165.71 L391.93,166.14 L392.60,166.55 L393.27,166.94 L393.93,167.32 L394.60,167.69 L395.27,168.03 L395.93,168.36 L396.60,168.67 L397.27,168.95 L397.93,169.21 L398.60,169.46 L399.27,169.70 L399.93,169.94 L400.60,170.17 L401.27,170.39 L401.93,170.61 L402.60,170.82 L403.27,171.02 L403.93,171.22 L404.60,171.41 L405.27,171.59 L405.93,171.76 L406.60,171.93 L407.27,172.08 L407.93,172.23 L408.60,172.37 L409.27,172.50 L409.93,172.62 L410.60,172.73 L411.27,172.83 L411.93,172.92 L412.60,173.02 L413.27,173.10 L413.93,173.19 L414.60,173.27 L415.27,173.36 L415.93,173.43 L416.60,173.51 L417.27,173.58 L417.93,173.65 L418.60,173.72 L419.27,173.79 L419.93,173.85 L420.60,173.91 L421.27,173.97 L421.93,174.02 L422.60,174.08 L423.27,174.13 L423.93,174.18 L424.60,174.22 L425.27,174.27 L425.93,174.31 L426.60,174.35 L427.27,174.39 L427.93,174.42 L428.60,174.46 L429.27,174.49 L429.93,174.52 L430.60,174.56 L431.27,174.59 L431.93,174.62 L432.60,174.65 L433.27,174.68 L433.93,174.71 L434.60,174.74 L435.27,174.77 L435.93,174.79 L436.60,174.82 L437.27,174.84 L437.93,174.87 L438.60,174.89 L439.27,174.91 L439.93,174.93 L440.60,174.94 L441.27,174.96 L441.93,174.97 L442.60,174.98 L443.27,174.99 L443.93,175.00 L444.60,175.00" fill="none" stroke="#4a4aff" stroke-width="1.5" stroke-linejoin="round"/>
<path d="M284.60,175.00 L285.27,165.16 L285.93,156.38 L286.60,147.38 L287.27,137.96 L287.93,129.59 L288.60,122.24 L289.27,116.13 L289.93,110.66 L290.60,105.66 L291.27,100.13 L291.93,94.37 L292.60,89.47 L293.27,85.08 L293.93,80.90 L294.60,76.72 L295.27,72.63 L295.93,68.66 L296.60,64.80 L297.27,61.04 L297.93,57.38 L298.60,53.85 L299.27,50.34 L299.93,46.77 L300.60,43.43 L301.27,40.67 L301.93,38.59 L302.60,36.80 L303.27,35.27 L303.93,34.01 L304.60,32.99 L305.27,32.01 L305.93,31.15 L306.60,30.53 L307.27,30.30 L307.93,30.40 L308.60,30.66 L309.27,31.04 L309.93,31.50 L310.60,32.04 L311.27,32.84 L311.93,33.91 L312.60,35.20 L313.27,36.66 L313.93,38.26 L314.60,40.30 L315.27,42.92 L315.93,45.85 L316.60,48.78 L317.27,51.43 L317.93,53.75 L318.60,55.96 L319.27,58.09 L319.93,60.21 L320.60,62.36 L321.27,64.59 L321.93,66.94 L322.60,69.37 L323.27,71.83 L323.93,74.26 L324.60,76.62 L325.27,78.86 L325.93,80.97 L326.60,83.01 L327.27,85.03 L327.93,87.09 L328.60,89.23 L329.27,91.52 L329.93,93.97 L330.60,96.53 L331.27,99.12 L331.93,101.67 L332.60,104.10 L333.27,106.44 L333.93,108.76 L334.60,111.04 L335.27,113.25 L335.93,115.38 L336.60,117.40 L337.27,119.32 L337.93,121.19 L338.60,123.01 L339.27,124.76 L339.93,126.46 L340.60,128.10 L341.27,129.67 L341.93,131.16 L342.60,132.59 L343.27,133.97 L343.93,135.31 L344.60,136.61 L345.27,137.88 L345.93,139.11 L346.60,140.30 L347.27,141.46 L347.93,142.57 L348.60,143.64 L349.27,144.68 L349.93,145.67 L350.60,146.63 L351.27,147.58 L351.93,148.51 L352.60,149.43 L353.27,150.33 L353.93,151.21 L354.60,152.08 L355.27,152.92 L355.93,153.74 L356.60,154.54 L357.27,155.32 L357.93,156.07 L358.60,156.79 L359.27,157.48 L359.93,158.14 L360.60,158.77 L361.27,159.37 L361.93,159.93 L362.60,160.47 L363.27,160.99 L363.93,161.49 L364.60,161.99 L365.27,162.47 L365.93,162.94 L366.60,163.39 L367.27,163.84 L367.93,164.27 L368.60,164.69 L369.27,165.09 L369.93,165.48 L370.60,165.86 L371.27,166.23 L371.93,166.58 L372.60,166.92 L373.27,167.24 L373.93,167.56 L374.60,167.85 L375.27,168.14 L375.93,168.41 L376.60,168.67 L377.27,168.93 L377.93,169.18 L378.60,169.43 L379.27,169.67 L379.93,169.91 L380.60,170.15 L381.27,170.37 L381.93,170.60 L382.60,170.81 L383.27,171.02 L383.93,171.22 L384.60,171.42 L385.27,171.60 L385.93,171.78 L386.60,171.95 L387.27,172.11 L387.93,172.25 L388.60,172.39 L389.27,172.52 L389.93,172.63 L390.60,172.74 L391.27,172.83 L391.93,172.91 L392.60,173.00 L393.27,173.08 L393.93,173.15 L394.60,173.23 L395.27,173.30 L395.93,173.37 L396.60,173.44 L397.27,173.51 L397.93,173.58 L398.60,173.64 L399.27,173.70 L399.93,173.76 L400.60,173.82 L401.27,173.87 L401.93,173.92 L402.60,173.97 L403.27,174.02 L403.93,174.07 L404.60,174.11 L405.27,174.15 L405.93,174.19 L406.60,174.23 L407.27,174.26 L407.93,174.29 L408.60,174.32 L409.27,174.35 L409.93,174.38 L410.60,174.40 L411.27,174.42 L411.93,174.44 L412.60,174.46 L413.27,174.48 L413.93,174.50 L414.60,174.52 L415.27,174.54 L415.93,174.56 L416.60,174.57 L417.27,174.59 L417.93,174.61 L418.60,174.63 L419.27,174.64 L419.93,174.66 L420.60,174.68 L421.27,174.69 L421.93,174.71 L422.60,174.73 L423.27,174.74 L423.93,174.76 L424.60,174.77 L425.27,174.78 L425.93,174.80 L426.60,174.81 L427.27,174.82 L427.93,174.84 L428.60,174.85 L429.27,174.86 L429.93,174.87 L430.60,174.88 L431.27,174.89 L431.93,174.90 L432.60,174.91 L433.27,174.92 L433.93,174.93 L434.60,174.94 L435.27,174.95 L435.93,174.95 L436.60,174.96 L437.27,174.97 L437.93,174.97 L438.60,174.98 L439.27,174.98 L439.93,174.99 L440.60,174.99 L441.27,174.99 L441.93,175.00 L442.60,175.00 L443.27,175.00 L443.93,175.00 L444.60,175.00 L444.60,175.0 L284.60,175.0 Z" fill="url(#gR)" stroke="none"/>
<path d="M284.60,175.00 L285.27,165.16 L285.93,156.38 L286.60,147.38 L287.27,137.96 L287.93,129.59 L288.60,122.24 L289.27,116.13 L289.93,110.66 L290.60,105.66 L291.27,100.13 L291.93,94.37 L292.60,89.47 L293.27,85.08 L293.93,80.90 L294.60,76.72 L295.27,72.63 L295.93,68.66 L296.60,64.80 L297.27,61.04 L297.93,57.38 L298.60,53.85 L299.27,50.34 L299.93,46.77 L300.60,43.43 L301.27,40.67 L301.93,38.59 L302.60,36.80 L303.27,35.27 L303.93,34.01 L304.60,32.99 L305.27,32.01 L305.93,31.15 L306.60,30.53 L307.27,30.30 L307.93,30.40 L308.60,30.66 L309.27,31.04 L309.93,31.50 L310.60,32.04 L311.27,32.84 L311.93,33.91 L312.60,35.20 L313.27,36.66 L313.93,38.26 L314.60,40.30 L315.27,42.92 L315.93,45.85 L316.60,48.78 L317.27,51.43 L317.93,53.75 L318.60,55.96 L319.27,58.09 L319.93,60.21 L320.60,62.36 L321.27,64.59 L321.93,66.94 L322.60,69.37 L323.27,71.83 L323.93,74.26 L324.60,76.62 L325.27,78.86 L325.93,80.97 L326.60,83.01 L327.27,85.03 L327.93,87.09 L328.60,89.23 L329.27,91.52 L329.93,93.97 L330.60,96.53 L331.27,99.12 L331.93,101.67 L332.60,104.10 L333.27,106.44 L333.93,108.76 L334.60,111.04 L335.27,113.25 L335.93,115.38 L336.60,117.40 L337.27,119.32 L337.93,121.19 L338.60,123.01 L339.27,124.76 L339.93,126.46 L340.60,128.10 L341.27,129.67 L341.93,131.16 L342.60,132.59 L343.27,133.97 L343.93,135.31 L344.60,136.61 L345.27,137.88 L345.93,139.11 L346.60,140.30 L347.27,141.46 L347.93,142.57 L348.60,143.64 L349.27,144.68 L349.93,145.67 L350.60,146.63 L351.27,147.58 L351.93,148.51 L352.60,149.43 L353.27,150.33 L353.93,151.21 L354.60,152.08 L355.27,152.92 L355.93,153.74 L356.60,154.54 L357.27,155.32 L357.93,156.07 L358.60,156.79 L359.27,157.48 L359.93,158.14 L360.60,158.77 L361.27,159.37 L361.93,159.93 L362.60,160.47 L363.27,160.99 L363.93,161.49 L364.60,161.99 L365.27,162.47 L365.93,162.94 L366.60,163.39 L367.27,163.84 L367.93,164.27 L368.60,164.69 L369.27,165.09 L369.93,165.48 L370.60,165.86 L371.27,166.23 L371.93,166.58 L372.60,166.92 L373.27,167.24 L373.93,167.56 L374.60,167.85 L375.27,168.14 L375.93,168.41 L376.60,168.67 L377.27,168.93 L377.93,169.18 L378.60,169.43 L379.27,169.67 L379.93,169.91 L380.60,170.15 L381.27,170.37 L381.93,170.60 L382.60,170.81 L383.27,171.02 L383.93,171.22 L384.60,171.42 L385.27,171.60 L385.93,171.78 L386.60,171.95 L387.27,172.11 L387.93,172.25 L388.60,172.39 L389.27,172.52 L389.93,172.63 L390.60,172.74 L391.27,172.83 L391.93,172.91 L392.60,173.00 L393.27,173.08 L393.93,173.15 L394.60,173.23 L395.27,173.30 L395.93,173.37 L396.60,173.44 L397.27,173.51 L397.93,173.58 L398.60,173.64 L399.27,173.70 L399.93,173.76 L400.60,173.82 L401.27,173.87 L401.93,173.92 L402.60,173.97 L403.27,174.02 L403.93,174.07 L404.60,174.11 L405.27,174.15 L405.93,174.19 L406.60,174.23 L407.27,174.26 L407.93,174.29 L408.60,174.32 L409.27,174.35 L409.93,174.38 L410.60,174.40 L411.27,174.42 L411.93,174.44 L412.60,174.46 L413.27,174.48 L413.93,174.50 L414.60,174.52 L415.27,174.54 L415.93,174.56 L416.60,174.57 L417.27,174.59 L417.93,174.61 L418.60,174.63 L419.27,174.64 L419.93,174.66 L420.60,174.68 L421.27,174.69 L421.93,174.71 L422.60,174.73 L423.27,174.74 L423.93,174.76 L424.60,174.77 L425.27,174.78 L425.93,174.80 L426.60,174.81 L427.27,174.82 L427.93,174.84 L428.60,174.85 L429.27,174.86 L429.93,174.87 L430.60,174.88 L431.27,174.89 L431.93,174.90 L432.60,174.91 L433.27,174.92 L433.93,174.93 L434.60,174.94 L435.27,174.95 L435.93,174.95 L436.60,174.96 L437.27,174.97 L437.93,174.97 L438.60,174.98 L439.27,174.98 L439.93,174.99 L440.60,174.99 L441.27,174.99 L441.93,175.00 L442.60,175.00 L443.27,175.00 L443.93,175.00 L444.60,175.00" fill="none" stroke="#ff2a2a" stroke-width="1.5" stroke-linejoin="round" stroke-opacity="0.75"/>
<path d="M284.60,175.00 L285.27,170.56 L285.93,165.16 L286.60,158.37 L287.27,151.12 L287.93,144.66 L288.60,138.36 L289.27,131.78 L289.93,125.26 L290.60,119.67 L291.27,114.67 L291.93,110.02 L292.60,105.54 L293.27,101.16 L293.93,96.94 L294.60,92.96 L295.27,89.26 L295.93,85.82 L296.60,82.54 L297.27,79.35 L297.93,76.18 L298.60,73.10 L299.27,70.07 L299.93,67.05 L300.60,63.97 L301.27,60.76 L301.93,57.49 L302.60,54.33 L303.27,51.43 L303.93,48.70 L304.60,46.02 L305.27,43.49 L305.93,41.16 L306.60,39.14 L307.27,37.44 L307.93,35.87 L308.60,34.47 L309.27,33.31 L309.93,32.47 L310.60,31.83 L311.27,31.24 L311.93,30.75 L312.60,30.42 L313.27,30.30 L313.93,30.49 L314.60,30.98 L315.27,31.66 L315.93,32.52 L316.60,33.99 L317.27,35.87 L317.93,37.87 L318.60,39.87 L319.27,42.09 L319.93,44.44 L320.60,46.83 L321.27,49.19 L321.93,51.43 L322.60,53.53 L323.27,55.56 L323.93,57.54 L324.60,59.52 L325.27,61.51 L325.93,63.55 L326.60,65.65 L327.27,67.81 L327.93,70.00 L328.60,72.22 L329.27,74.44 L329.93,76.66 L330.60,78.86 L331.27,81.07 L331.93,83.27 L332.60,85.48 L333.27,87.70 L333.93,89.91 L334.60,92.12 L335.27,94.34 L335.93,96.56 L336.60,98.78 L337.27,101.00 L337.93,103.21 L338.60,105.44 L339.27,107.76 L339.93,110.09 L340.60,112.40 L341.27,114.61 L341.93,116.67 L342.60,118.52 L343.27,120.25 L343.93,121.89 L344.60,123.47 L345.27,124.97 L345.93,126.42 L346.60,127.82 L347.27,129.18 L347.93,130.50 L348.60,131.79 L349.27,133.05 L349.93,134.30 L350.60,135.53 L351.27,136.73 L351.93,137.91 L352.60,139.06 L353.27,140.18 L353.93,141.27 L354.60,142.32 L355.27,143.34 L355.93,144.32 L356.60,145.25 L357.27,146.15 L357.93,147.01 L358.60,147.87 L359.27,148.71 L359.93,149.54 L360.60,150.35 L361.27,151.15 L361.93,151.93 L362.60,152.69 L363.27,153.44 L363.93,154.16 L364.60,154.87 L365.27,155.55 L365.93,156.22 L366.60,156.86 L367.27,157.48 L367.93,158.07 L368.60,158.64 L369.27,159.18 L369.93,159.70 L370.60,160.19 L371.27,160.66 L371.93,161.10 L372.60,161.51 L373.27,161.91 L373.93,162.30 L374.60,162.66 L375.27,163.02 L375.93,163.37 L376.60,163.72 L377.27,164.05 L377.93,164.39 L378.60,164.73 L379.27,165.08 L379.93,165.43 L380.60,165.79 L381.27,166.15 L381.93,166.51 L382.60,166.88 L383.27,167.24 L383.93,167.59 L384.60,167.94 L385.27,168.28 L385.93,168.61 L386.60,168.93 L387.27,169.24 L387.93,169.53 L388.60,169.80 L389.27,170.05 L389.93,170.28 L390.60,170.48 L391.27,170.66 L391.93,170.82 L392.60,170.98 L393.27,171.14 L393.93,171.29 L394.60,171.44 L395.27,171.58 L395.93,171.72 L396.60,171.86 L397.27,172.00 L397.93,172.13 L398.60,172.25 L399.27,172.37 L399.93,172.49 L400.60,172.61 L401.27,172.72 L401.93,172.82 L402.60,172.92 L403.27,173.02 L403.93,173.12 L404.60,173.20 L405.27,173.29 L405.93,173.37 L406.60,173.44 L407.27,173.52 L407.93,173.58 L408.60,173.64 L409.27,173.70 L409.93,173.75 L410.60,173.80 L411.27,173.84 L411.93,173.88 L412.60,173.92 L413.27,173.96 L413.93,174.00 L414.60,174.04 L415.27,174.08 L415.93,174.11 L416.60,174.15 L417.27,174.18 L417.93,174.22 L418.60,174.25 L419.27,174.29 L419.93,174.32 L420.60,174.36 L421.27,174.39 L421.93,174.42 L422.60,174.45 L423.27,174.48 L423.93,174.51 L424.60,174.54 L425.27,174.57 L425.93,174.59 L426.60,174.62 L427.27,174.65 L427.93,174.67 L428.60,174.70 L429.27,174.72 L429.93,174.74 L430.60,174.76 L431.27,174.79 L431.93,174.81 L432.60,174.82 L433.27,174.84 L433.93,174.86 L434.60,174.88 L435.27,174.89 L435.93,174.91 L436.60,174.92 L437.27,174.93 L437.93,174.94 L438.60,174.95 L439.27,174.96 L439.93,174.97 L440.60,174.98 L441.27,174.99 L441.93,174.99 L442.60,174.99 L443.27,175.00 L443.93,175.00 L444.60,175.00" fill="none" stroke="#008000" stroke-width="1.5" stroke-linejoin="round"/>
<path d="M284.60,175.00 L285.27,172.18 L285.93,169.13 L286.60,165.84 L287.27,162.23 L287.93,158.22 L288.60,154.17 L289.27,150.41 L289.93,146.88 L290.60,143.48 L291.27,140.22 L291.93,137.09 L292.60,134.19 L293.27,131.51 L293.93,128.91 L294.60,126.24 L295.27,123.35 L295.93,120.09 L296.60,116.22 L297.27,112.05 L297.93,107.93 L298.60,104.24 L299.27,101.04 L299.93,98.06 L300.60,95.23 L301.27,92.46 L301.93,89.70 L302.60,87.03 L303.27,84.42 L303.93,81.81 L304.60,79.14 L305.27,76.34 L305.93,73.41 L306.60,70.42 L307.27,67.45 L307.93,64.59 L308.60,61.85 L309.27,59.17 L309.93,56.54 L310.60,53.96 L311.27,51.43 L311.93,48.83 L312.60,46.15 L313.27,43.55 L313.93,41.15 L314.60,39.10 L315.27,37.50 L315.93,36.08 L316.60,34.82 L317.27,33.73 L317.93,32.84 L318.60,32.13 L319.27,31.46 L319.93,30.87 L320.60,30.46 L321.27,30.30 L321.93,30.48 L322.60,30.95 L323.27,31.64 L323.93,32.63 L324.60,34.66 L325.27,37.12 L325.93,39.33 L326.60,41.54 L327.27,43.79 L327.93,46.04 L328.60,48.25 L329.27,50.40 L329.93,52.43 L330.60,54.34 L331.27,56.19 L331.93,58.00 L332.60,59.81 L333.27,61.66 L333.93,63.59 L334.60,65.63 L335.27,67.78 L335.93,70.01 L336.60,72.29 L337.27,74.58 L337.93,76.86 L338.60,79.11 L339.27,81.34 L339.93,83.59 L340.60,85.83 L341.27,88.09 L341.93,90.35 L342.60,92.68 L343.27,95.08 L343.93,97.48 L344.60,99.83 L345.27,102.06 L345.93,104.10 L346.60,105.97 L347.27,107.73 L347.93,109.42 L348.60,111.03 L349.27,112.60 L349.93,114.14 L350.60,115.67 L351.27,117.21 L351.93,118.77 L352.60,120.34 L353.27,121.92 L353.93,123.48 L354.60,125.03 L355.27,126.55 L355.93,128.04 L356.60,129.47 L357.27,130.86 L357.93,132.17 L358.60,133.43 L359.27,134.66 L359.93,135.86 L360.60,137.03 L361.27,138.17 L361.93,139.29 L362.60,140.38 L363.27,141.44 L363.93,142.49 L364.60,143.51 L365.27,144.50 L365.93,145.48 L366.60,146.44 L367.27,147.40 L367.93,148.34 L368.60,149.28 L369.27,150.21 L369.93,151.13 L370.60,152.03 L371.27,152.92 L371.93,153.79 L372.60,154.64 L373.27,155.47 L373.93,156.27 L374.60,157.05 L375.27,157.79 L375.93,158.51 L376.60,159.20 L377.27,159.85 L377.93,160.46 L378.60,161.07 L379.27,161.67 L379.93,162.25 L380.60,162.82 L381.27,163.38 L381.93,163.91 L382.60,164.44 L383.27,164.94 L383.93,165.42 L384.60,165.87 L385.27,166.30 L385.93,166.71 L386.60,167.09 L387.27,167.44 L387.93,167.76 L388.60,168.07 L389.27,168.36 L389.93,168.65 L390.60,168.93 L391.27,169.20 L391.93,169.46 L392.60,169.71 L393.27,169.96 L393.93,170.19 L394.60,170.42 L395.27,170.64 L395.93,170.84 L396.60,171.04 L397.27,171.22 L397.93,171.40 L398.60,171.56 L399.27,171.72 L399.93,171.86 L400.60,171.99 L401.27,172.11 L401.93,172.22 L402.60,172.33 L403.27,172.43 L403.93,172.53 L404.60,172.63 L405.27,172.73 L405.93,172.83 L406.60,172.92 L407.27,173.01 L407.93,173.10 L408.60,173.18 L409.27,173.26 L409.93,173.34 L410.60,173.42 L411.27,173.49 L411.93,173.56 L412.60,173.63 L413.27,173.69 L413.93,173.76 L414.60,173.82 L415.27,173.88 L415.93,173.93 L416.60,173.98 L417.27,174.03 L417.93,174.08 L418.60,174.12 L419.27,174.17 L419.93,174.21 L420.60,174.24 L421.27,174.28 L421.93,174.31 L422.60,174.34 L423.27,174.37 L423.93,174.41 L424.60,174.44 L425.27,174.47 L425.93,174.50 L426.60,174.53 L427.27,174.56 L427.93,174.59 L428.60,174.61 L429.27,174.64 L429.93,174.67 L430.60,174.70 L431.27,174.72 L431.93,174.75 L432.60,174.77 L433.27,174.79 L433.93,174.81 L434.60,174.84 L435.27,174.85 L435.93,174.87 L436.60,174.89 L437.27,174.91 L437.93,174.92 L438.60,174.94 L439.27,174.95 L439.93,174.96 L440.60,174.97 L441.27,174.98 L441.93,174.99 L442.60,174.99 L443.27,175.00 L443.93,175.00 L444.60,175.00" fill="none" stroke="#800000" stroke-width="1.5" stroke-linejoin="round"/>
<rect x="284.6" y="15.4" width="160" height="159.6" fill="none" stroke="#3a3a3a" stroke-width="1.1"/>
<line x1="284.60" y1="175.0" x2="284.60" y2="179.0" stroke="#333" stroke-width="1"/>
<text x="284.60" y="191.8" font-size="12" text-anchor="middle" fill="#1a1a1a">320</text>
<line x1="297.93" y1="175.0" x2="297.93" y2="177.0" stroke="#333" stroke-width="1"/>
<line x1="311.27" y1="175.0" x2="311.27" y2="177.0" stroke="#333" stroke-width="1"/>
<line x1="324.60" y1="175.0" x2="324.60" y2="179.0" stroke="#333" stroke-width="1"/>
<text x="324.60" y="191.8" font-size="12" text-anchor="middle" fill="#1a1a1a">380</text>
<line x1="337.93" y1="175.0" x2="337.93" y2="177.0" stroke="#333" stroke-width="1"/>
<line x1="351.27" y1="175.0" x2="351.27" y2="177.0" stroke="#333" stroke-width="1"/>
<line x1="364.60" y1="175.0" x2="364.60" y2="179.0" stroke="#333" stroke-width="1"/>
<text x="364.60" y="191.8" font-size="12" text-anchor="middle" fill="#1a1a1a">440</text>
<line x1="377.93" y1="175.0" x2="377.93" y2="177.0" stroke="#333" stroke-width="1"/>
<line x1="391.27" y1="175.0" x2="391.27" y2="177.0" stroke="#333" stroke-width="1"/>
<line x1="404.60" y1="175.0" x2="404.60" y2="179.0" stroke="#333" stroke-width="1"/>
<text x="404.60" y="191.8" font-size="12" text-anchor="middle" fill="#1a1a1a">500</text>
<line x1="417.93" y1="175.0" x2="417.93" y2="177.0" stroke="#333" stroke-width="1"/>
<line x1="431.27" y1="175.0" x2="431.27" y2="177.0" stroke="#333" stroke-width="1"/>
<line x1="444.60" y1="175.0" x2="444.60" y2="179.0" stroke="#333" stroke-width="1"/>
<text x="444.60" y="191.8" font-size="12" text-anchor="middle" fill="#1a1a1a">560</text>
<line x1="280.6" y1="175.00" x2="284.6" y2="175.00" stroke="#333" stroke-width="1"/>
<text x="279.1" y="179.30" font-size="12" text-anchor="end" fill="#1a1a1a">0.0</text>
<line x1="282.6" y1="160.53" x2="284.6" y2="160.53" stroke="#333" stroke-width="1"/>
<line x1="280.6" y1="146.06" x2="284.6" y2="146.06" stroke="#333" stroke-width="1"/>
<text x="279.1" y="150.36" font-size="12" text-anchor="end" fill="#1a1a1a">0.2</text>
<line x1="282.6" y1="131.59" x2="284.6" y2="131.59" stroke="#333" stroke-width="1"/>
<line x1="280.6" y1="117.12" x2="284.6" y2="117.12" stroke="#333" stroke-width="1"/>
<text x="279.1" y="121.42" font-size="12" text-anchor="end" fill="#1a1a1a">0.4</text>
<line x1="282.6" y1="102.65" x2="284.6" y2="102.65" stroke="#333" stroke-width="1"/>
<line x1="280.6" y1="88.18" x2="284.6" y2="88.18" stroke="#333" stroke-width="1"/>
<text x="279.1" y="92.48" font-size="12" text-anchor="end" fill="#1a1a1a">0.6</text>
<line x1="282.6" y1="73.71" x2="284.6" y2="73.71" stroke="#333" stroke-width="1"/>
<line x1="280.6" y1="59.24" x2="284.6" y2="59.24" stroke="#333" stroke-width="1"/>
<text x="279.1" y="63.54" font-size="12" text-anchor="end" fill="#1a1a1a">0.8</text>
<line x1="282.6" y1="44.77" x2="284.6" y2="44.77" stroke="#333" stroke-width="1"/>
<line x1="280.6" y1="30.30" x2="284.6" y2="30.30" stroke="#333" stroke-width="1"/>
<text x="279.1" y="34.60" font-size="12" text-anchor="end" fill="#1a1a1a">1.0</text>
<line x1="282.6" y1="15.83" x2="284.6" y2="15.83" stroke="#333" stroke-width="1"/>
<text x="358.70000000000005" y="209" font-size="12.6" text-anchor="middle" font-weight="bold" fill="#000" textLength="101.5" lengthAdjust="spacingAndGlyphs">Wavelength (nm)</text>
<text x="0" y="0" font-size="12.6" font-weight="bold" text-anchor="middle" textLength="142.5" lengthAdjust="spacingAndGlyphs" transform="translate(254.10000000000002,95.2) rotate(-90)">Normalized PL intensity</text>
<text x="232.70000000000002" y="10.8" font-size="14.5" font-weight="bold" fill="#000">b</text>
<text x="286.3" y="25.7" font-size="10.5" fill="#ff2020">354 nm</text>
<text x="323.7" y="25.7" font-size="10.5" fill="#2020ff">383 nm</text>
<line x1="305.5" y1="26.8" x2="323" y2="26.8" stroke="#888" stroke-width="1.6"/>
<path d="M322,24 L328.6,26.8 L322,29.4 Z" fill="#111"/>
<text x="394" y="30" font-size="10.5" text-anchor="middle">11-NB</text>
<text x="400.1" y="43.0" font-size="10.5" text-anchor="middle" fill="#000">Temp. (K)</text>
<rect x="376.1" y="46.6" width="23.8" height="11.6" fill="url(#lgR)" stroke="#ff3a3a" stroke-width="1.1"/>
<text x="403.0" y="56.0" font-size="10.5" fill="#000">320</text>
<line x1="376.6" y1="65.1" x2="399.6" y2="65.1" stroke="#008000" stroke-width="1.5"/>
<text x="403.0" y="68.9" font-size="10.5" fill="#000">280</text>
<line x1="376.6" y1="78.0" x2="399.6" y2="78.0" stroke="#800000" stroke-width="1.5"/>
<text x="403.0" y="81.8" font-size="10.5" fill="#000">240</text>
<rect x="376.1" y="85.5" width="23.8" height="11.6" fill="url(#lgB)" stroke="#4040ff" stroke-width="1.1"/>
<text x="403.0" y="95.0" font-size="10.5" fill="#000">200</text>
<circle cx="389.6" cy="121.5" r="15.4" fill="#0a0538"/>
<text x="389.6" y="125.4" font-size="10.5" text-anchor="middle" font-weight="bold" fill="#fff">RT</text>
<circle cx="423.9" cy="121.5" r="15.4" fill="#2a10c8"/>
<text x="423.9" y="125.4" font-size="10.5" text-anchor="middle" font-weight="bold" fill="#fff">200K</text>
<path d="M516.50,174.28 L517.17,174.10 L517.83,173.93 L518.50,173.79 L519.17,173.66 L519.83,173.55 L520.50,173.45 L521.17,173.36 L521.83,173.29 L522.50,173.26 L523.17,173.35 L523.83,173.55 L524.50,173.75 L525.17,173.84 L525.83,173.83 L526.50,173.80 L527.17,173.76 L527.83,173.70 L528.50,173.62 L529.17,173.54 L529.83,173.44 L530.50,173.33 L531.17,173.22 L531.83,173.10 L532.50,172.96 L533.17,172.78 L533.83,172.56 L534.50,172.30 L535.17,172.00 L535.83,171.66 L536.50,171.28 L537.17,170.86 L537.83,170.39 L538.50,169.89 L539.17,169.33 L539.83,168.74 L540.50,167.92 L541.17,166.79 L541.83,165.40 L542.50,163.80 L543.17,162.05 L543.83,160.14 L544.50,157.79 L545.17,155.05 L545.83,152.02 L546.50,148.76 L547.17,145.05 L547.83,140.87 L548.50,136.41 L549.17,131.76 L549.83,126.73 L550.50,121.50 L551.17,116.23 L551.83,110.83 L552.50,105.30 L553.17,99.59 L553.83,93.74 L554.50,87.97 L555.17,82.21 L555.83,76.69 L556.50,71.55 L557.17,66.66 L557.83,61.95 L558.50,57.31 L559.17,53.04 L559.83,49.33 L560.50,45.94 L561.17,42.99 L561.83,40.58 L562.50,38.44 L563.17,36.58 L563.83,35.06 L564.50,33.84 L565.17,32.66 L565.83,31.61 L566.50,30.80 L567.17,30.35 L567.83,30.33 L568.50,30.53 L569.17,30.88 L569.83,31.33 L570.50,31.84 L571.17,32.67 L571.83,33.86 L572.50,35.28 L573.17,36.81 L573.83,38.56 L574.50,40.64 L575.17,42.92 L575.83,45.31 L576.50,47.66 L577.17,50.03 L577.83,52.47 L578.50,54.97 L579.17,57.48 L579.83,59.96 L580.50,62.42 L581.17,64.88 L581.83,67.34 L582.50,69.80 L583.17,72.26 L583.83,74.73 L584.50,77.22 L585.17,79.70 L585.83,82.15 L586.50,84.56 L587.17,86.95 L587.83,89.32 L588.50,91.65 L589.17,93.93 L589.83,96.14 L590.50,98.26 L591.17,100.32 L591.83,102.33 L592.50,104.31 L593.17,106.27 L593.83,108.22 L594.50,110.16 L595.17,112.06 L595.83,113.91 L596.50,115.67 L597.17,117.35 L597.83,118.97 L598.50,120.53 L599.17,122.06 L599.83,123.57 L600.50,125.08 L601.17,126.58 L601.83,128.06 L602.50,129.53 L603.17,130.97 L603.83,132.38 L604.50,133.76 L605.17,135.11 L605.83,136.44 L606.50,137.74 L607.17,139.00 L607.83,140.24 L608.50,141.43 L609.17,142.59 L609.83,143.72 L610.50,144.83 L611.17,145.91 L611.83,146.96 L612.50,147.97 L613.17,148.95 L613.83,149.90 L614.50,150.83 L615.17,151.72 L615.83,152.59 L616.50,153.43 L617.17,154.25 L617.83,155.03 L618.50,155.79 L619.17,156.54 L619.83,157.27 L620.50,157.97 L621.17,158.65 L621.83,159.31 L622.50,159.94 L623.17,160.53 L623.83,161.10 L624.50,161.66 L625.17,162.20 L625.83,162.73 L626.50,163.24 L627.17,163.73 L627.83,164.20 L628.50,164.64 L629.17,165.06 L629.83,165.45 L630.50,165.82 L631.17,166.17 L631.83,166.51 L632.50,166.84 L633.17,167.15 L633.83,167.44 L634.50,167.73 L635.17,168.00 L635.83,168.25 L636.50,168.49 L637.17,168.72 L637.83,168.93 L638.50,169.14 L639.17,169.35 L639.83,169.54 L640.50,169.72 L641.17,169.90 L641.83,170.06 L642.50,170.22 L643.17,170.37 L643.83,170.51 L644.50,170.65 L645.17,170.79 L645.83,170.92 L646.50,171.05 L647.17,171.17 L647.83,171.29 L648.50,171.41 L649.17,171.52 L649.83,171.63 L650.50,171.73 L651.17,171.83 L651.83,171.93 L652.50,172.02 L653.17,172.11 L653.83,172.19 L654.50,172.27 L655.17,172.35 L655.83,172.43 L656.50,172.51 L657.17,172.58 L657.83,172.65 L658.50,172.72 L659.17,172.78 L659.83,172.84 L660.50,172.91 L661.17,172.96 L661.83,173.02 L662.50,173.07 L663.17,173.12 L663.83,173.17 L664.50,173.21 L665.17,173.26 L665.83,173.30 L666.50,173.35 L667.17,173.39 L667.83,173.44 L668.50,173.48 L669.17,173.52 L669.83,173.55 L670.50,173.59 L671.17,173.63 L671.83,173.66 L672.50,173.69 L673.17,173.72 L673.83,173.75 L674.50,173.78 L675.17,173.80 L675.83,173.82 L676.50,173.84 L676.50,175.0 L516.50,175.0 Z" fill="url(#gB)" stroke="none"/>
<path d="M516.50,174.28 L517.17,174.10 L517.83,173.93 L518.50,173.79 L519.17,173.66 L519.83,173.55 L520.50,173.45 L521.17,173.36 L521.83,173.29 L522.50,173.26 L523.17,173.35 L523.83,173.55 L524.50,173.75 L525.17,173.84 L525.83,173.83 L526.50,173.80 L527.17,173.76 L527.83,173.70 L528.50,173.62 L529.17,173.54 L529.83,173.44 L530.50,173.33 L531.17,173.22 L531.83,173.10 L532.50,172.96 L533.17,172.78 L533.83,172.56 L534.50,172.30 L535.17,172.00 L535.83,171.66 L536.50,171.28 L537.17,170.86 L537.83,170.39 L538.50,169.89 L539.17,169.33 L539.83,168.74 L540.50,167.92 L541.17,166.79 L541.83,165.40 L542.50,163.80 L543.17,162.05 L543.83,160.14 L544.50,157.79 L545.17,155.05 L545.83,152.02 L546.50,148.76 L547.17,145.05 L547.83,140.87 L548.50,136.41 L549.17,131.76 L549.83,126.73 L550.50,121.50 L551.17,116.23 L551.83,110.83 L552.50,105.30 L553.17,99.59 L553.83,93.74 L554.50,87.97 L555.17,82.21 L555.83,76.69 L556.50,71.55 L557.17,66.66 L557.83,61.95 L558.50,57.31 L559.17,53.04 L559.83,49.33 L560.50,45.94 L561.17,42.99 L561.83,40.58 L562.50,38.44 L563.17,36.58 L563.83,35.06 L564.50,33.84 L565.17,32.66 L565.83,31.61 L566.50,30.80 L567.17,30.35 L567.83,30.33 L568.50,30.53 L569.17,30.88 L569.83,31.33 L570.50,31.84 L571.17,32.67 L571.83,33.86 L572.50,35.28 L573.17,36.81 L573.83,38.56 L574.50,40.64 L575.17,42.92 L575.83,45.31 L576.50,47.66 L577.17,50.03 L577.83,52.47 L578.50,54.97 L579.17,57.48 L579.83,59.96 L580.50,62.42 L581.17,64.88 L581.83,67.34 L582.50,69.80 L583.17,72.26 L583.83,74.73 L584.50,77.22 L585.17,79.70 L585.83,82.15 L586.50,84.56 L587.17,86.95 L587.83,89.32 L588.50,91.65 L589.17,93.93 L589.83,96.14 L590.50,98.26 L591.17,100.32 L591.83,102.33 L592.50,104.31 L593.17,106.27 L593.83,108.22 L594.50,110.16 L595.17,112.06 L595.83,113.91 L596.50,115.67 L597.17,117.35 L597.83,118.97 L598.50,120.53 L599.17,122.06 L599.83,123.57 L600.50,125.08 L601.17,126.58 L601.83,128.06 L602.50,129.53 L603.17,130.97 L603.83,132.38 L604.50,133.76 L605.17,135.11 L605.83,136.44 L606.50,137.74 L607.17,139.00 L607.83,140.24 L608.50,141.43 L609.17,142.59 L609.83,143.72 L610.50,144.83 L611.17,145.91 L611.83,146.96 L612.50,147.97 L613.17,148.95 L613.83,149.90 L614.50,150.83 L615.17,151.72 L615.83,152.59 L616.50,153.43 L617.17,154.25 L617.83,155.03 L618.50,155.79 L619.17,156.54 L619.83,157.27 L620.50,157.97 L621.17,158.65 L621.83,159.31 L622.50,159.94 L623.17,160.53 L623.83,161.10 L624.50,161.66 L625.17,162.20 L625.83,162.73 L626.50,163.24 L627.17,163.73 L627.83,164.20 L628.50,164.64 L629.17,165.06 L629.83,165.45 L630.50,165.82 L631.17,166.17 L631.83,166.51 L632.50,166.84 L633.17,167.15 L633.83,167.44 L634.50,167.73 L635.17,168.00 L635.83,168.25 L636.50,168.49 L637.17,168.72 L637.83,168.93 L638.50,169.14 L639.17,169.35 L639.83,169.54 L640.50,169.72 L641.17,169.90 L641.83,170.06 L642.50,170.22 L643.17,170.37 L643.83,170.51 L644.50,170.65 L645.17,170.79 L645.83,170.92 L646.50,171.05 L647.17,171.17 L647.83,171.29 L648.50,171.41 L649.17,171.52 L649.83,171.63 L650.50,171.73 L651.17,171.83 L651.83,171.93 L652.50,172.02 L653.17,172.11 L653.83,172.19 L654.50,172.27 L655.17,172.35 L655.83,172.43 L656.50,172.51 L657.17,172.58 L657.83,172.65 L658.50,172.72 L659.17,172.78 L659.83,172.84 L660.50,172.91 L661.17,172.96 L661.83,173.02 L662.50,173.07 L663.17,173.12 L663.83,173.17 L664.50,173.21 L665.17,173.26 L665.83,173.30 L666.50,173.35 L667.17,173.39 L667.83,173.44 L668.50,173.48 L669.17,173.52 L669.83,173.55 L670.50,173.59 L671.17,173.63 L671.83,173.66 L672.50,173.69 L673.17,173.72 L673.83,173.75 L674.50,173.78 L675.17,173.80 L675.83,173.82 L676.50,173.84" fill="none" stroke="#3333ff" stroke-width="1.8" stroke-linejoin="round"/>
<path d="M516.50,174.28 L517.17,174.10 L517.83,173.93 L518.50,173.79 L519.17,173.66 L519.83,173.55 L520.50,173.45 L521.17,173.36 L521.83,173.29 L522.50,173.26 L523.17,173.35 L523.83,173.55 L524.50,173.75 L525.17,173.84 L525.83,173.80 L526.50,173.68 L527.17,173.51 L527.83,173.31 L528.50,173.10 L529.17,172.84 L529.83,172.52 L530.50,172.14 L531.17,171.70 L531.83,171.20 L532.50,170.64 L533.17,170.02 L533.83,169.35 L534.50,168.63 L535.17,167.72 L535.83,166.58 L536.50,165.25 L537.17,163.75 L537.83,162.12 L538.50,160.32 L539.17,158.16 L539.83,155.67 L540.50,152.92 L541.17,149.99 L541.83,146.82 L542.50,143.26 L543.17,139.42 L543.83,135.43 L544.50,131.31 L545.17,126.94 L545.83,122.43 L546.50,117.92 L547.17,113.35 L547.83,108.72 L548.50,104.02 L549.17,99.22 L549.83,94.37 L550.50,89.59 L551.17,84.84 L551.83,80.18 L552.50,75.74 L553.17,71.53 L553.83,67.48 L554.50,63.58 L555.17,59.75 L555.83,56.04 L556.50,52.63 L557.17,49.58 L557.83,46.71 L558.50,44.11 L559.17,41.88 L559.83,39.91 L560.50,38.08 L561.17,36.48 L561.83,35.16 L562.50,34.17 L563.17,33.23 L563.83,32.35 L564.50,31.57 L565.17,30.94 L565.83,30.50 L566.50,30.31 L567.17,30.36 L567.83,30.56 L568.50,30.89 L569.17,31.29 L569.83,31.75 L570.50,32.35 L571.17,33.20 L571.83,34.26 L572.50,35.47 L573.17,36.81 L573.83,38.46 L574.50,40.52 L575.17,42.85 L575.83,45.28 L576.50,47.66 L577.17,50.03 L577.83,52.47 L578.50,54.97 L579.17,57.48 L579.83,59.96 L580.50,62.42 L581.17,64.88 L581.83,67.34 L582.50,69.80 L583.17,72.26 L583.83,74.73 L584.50,77.22 L585.17,79.70 L585.83,82.15 L586.50,84.56 L587.17,86.95 L587.83,89.32 L588.50,91.65 L589.17,93.93 L589.83,96.14 L590.50,98.26 L591.17,100.32 L591.83,102.33 L592.50,104.31 L593.17,106.27 L593.83,108.22 L594.50,110.16 L595.17,112.06 L595.83,113.91 L596.50,115.67 L597.17,117.35 L597.83,118.97 L598.50,120.53 L599.17,122.06 L599.83,123.57 L600.50,125.08 L601.17,126.58 L601.83,128.06 L602.50,129.53 L603.17,130.97 L603.83,132.38 L604.50,133.76 L605.17,135.11 L605.83,136.44 L606.50,137.74 L607.17,139.00 L607.83,140.24 L608.50,141.43 L609.17,142.59 L609.83,143.72 L610.50,144.83 L611.17,145.91 L611.83,146.96 L612.50,147.97 L613.17,148.95 L613.83,149.90 L614.50,150.83 L615.17,151.72 L615.83,152.59 L616.50,153.43 L617.17,154.25 L617.83,155.03 L618.50,155.79 L619.17,156.54 L619.83,157.27 L620.50,157.97 L621.17,158.65 L621.83,159.31 L622.50,159.94 L623.17,160.53 L623.83,161.10 L624.50,161.66 L625.17,162.20 L625.83,162.73 L626.50,163.24 L627.17,163.73 L627.83,164.20 L628.50,164.64 L629.17,165.06 L629.83,165.45 L630.50,165.82 L631.17,166.17 L631.83,166.51 L632.50,166.84 L633.17,167.15 L633.83,167.44 L634.50,167.73 L635.17,168.00 L635.83,168.25 L636.50,168.49 L637.17,168.72 L637.83,168.93 L638.50,169.14 L639.17,169.35 L639.83,169.54 L640.50,169.72 L641.17,169.90 L641.83,170.06 L642.50,170.22 L643.17,170.37 L643.83,170.51 L644.50,170.65 L645.17,170.79 L645.83,170.92 L646.50,171.05 L647.17,171.17 L647.83,171.29 L648.50,171.41 L649.17,171.52 L649.83,171.63 L650.50,171.73 L651.17,171.83 L651.83,171.93 L652.50,172.02 L653.17,172.11 L653.83,172.19 L654.50,172.27 L655.17,172.35 L655.83,172.43 L656.50,172.51 L657.17,172.58 L657.83,172.65 L658.50,172.72 L659.17,172.78 L659.83,172.84 L660.50,172.91 L661.17,172.96 L661.83,173.02 L662.50,173.07 L663.17,173.12 L663.83,173.17 L664.50,173.21 L665.17,173.26 L665.83,173.30 L666.50,173.35 L667.17,173.39 L667.83,173.44 L668.50,173.48 L669.17,173.52 L669.83,173.55 L670.50,173.59 L671.17,173.63 L671.83,173.66 L672.50,173.69 L673.17,173.72 L673.83,173.75 L674.50,173.78 L675.17,173.80 L675.83,173.82 L676.50,173.84 L676.50,175.0 L516.50,175.0 Z" fill="url(#gR)" stroke="none"/>
<path d="M516.50,174.28 L517.17,174.10 L517.83,173.93 L518.50,173.79 L519.17,173.66 L519.83,173.55 L520.50,173.45 L521.17,173.36 L521.83,173.29 L522.50,173.26 L523.17,173.35 L523.83,173.55 L524.50,173.75 L525.17,173.84 L525.83,173.83 L526.50,173.79 L527.17,173.73 L527.83,173.65 L528.50,173.55 L529.17,173.44 L529.83,173.32 L530.50,173.19 L531.17,173.05 L531.83,172.87 L532.50,172.64 L533.17,172.37 L533.83,172.05 L534.50,171.69 L535.17,171.29 L535.83,170.84 L536.50,170.34 L537.17,169.80 L537.83,169.21 L538.50,168.56 L539.17,167.65 L539.83,166.46 L540.50,165.04 L541.17,163.43 L541.83,161.68 L542.50,159.73 L543.17,157.35 L543.83,154.61 L544.50,151.61 L545.17,148.41 L545.83,144.75 L546.50,140.69 L547.17,136.38 L547.83,131.90 L548.50,127.09 L549.17,122.09 L549.83,117.06 L550.50,111.93 L551.17,106.69 L551.83,101.32 L552.50,95.80 L553.17,90.32 L553.83,84.88 L554.50,79.52 L555.17,74.49 L555.83,69.74 L556.50,65.19 L557.17,60.77 L557.83,56.44 L558.50,52.51 L559.17,49.05 L559.83,45.85 L560.50,43.05 L561.17,40.74 L561.83,38.66 L562.50,36.83 L563.17,35.31 L563.83,34.14 L564.50,33.03 L565.17,32.00 L565.83,31.15 L566.50,30.55 L567.17,30.30 L567.83,30.38 L568.50,30.62 L569.17,30.99 L569.83,31.45 L570.50,31.98 L571.17,32.83 L571.83,33.98 L572.50,35.34 L573.17,36.81 L573.83,38.53 L574.50,40.60 L575.17,42.90 L575.83,45.30 L576.50,47.66 L577.17,50.03 L577.83,52.47 L578.50,54.97 L579.17,57.48 L579.83,59.96 L580.50,62.42 L581.17,64.88 L581.83,67.34 L582.50,69.80 L583.17,72.26 L583.83,74.73 L584.50,77.22 L585.17,79.70 L585.83,82.15 L586.50,84.56 L587.17,86.95 L587.83,89.32 L588.50,91.65 L589.17,93.93 L589.83,96.14 L590.50,98.26 L591.17,100.32 L591.83,102.33 L592.50,104.31 L593.17,106.27 L593.83,108.22 L594.50,110.16 L595.17,112.06 L595.83,113.91 L596.50,115.67 L597.17,117.35 L597.83,118.97 L598.50,120.53 L599.17,122.06 L599.83,123.57 L600.50,125.08 L601.17,126.58 L601.83,128.06 L602.50,129.53 L603.17,130.97 L603.83,132.38 L604.50,133.76 L605.17,135.11 L605.83,136.44 L606.50,137.74 L607.17,139.00 L607.83,140.24 L608.50,141.43 L609.17,142.59 L609.83,143.72 L610.50,144.83 L611.17,145.91 L611.83,146.96 L612.50,147.97 L613.17,148.95 L613.83,149.90 L614.50,150.83 L615.17,151.72 L615.83,152.59 L616.50,153.43 L617.17,154.25 L617.83,155.03 L618.50,155.79 L619.17,156.54 L619.83,157.27 L620.50,157.97 L621.17,158.65 L621.83,159.31 L622.50,159.94 L623.17,160.53 L623.83,161.10 L624.50,161.66 L625.17,162.20 L625.83,162.73 L626.50,163.24 L627.17,163.73 L627.83,164.20 L628.50,164.64 L629.17,165.06 L629.83,165.45 L630.50,165.82 L631.17,166.17 L631.83,166.51 L632.50,166.84 L633.17,167.15 L633.83,167.44 L634.50,167.73 L635.17,168.00 L635.83,168.25 L636.50,168.49 L637.17,168.72 L637.83,168.93 L638.50,169.14 L639.17,169.35 L639.83,169.54 L640.50,169.72 L641.17,169.90 L641.83,170.06 L642.50,170.22 L643.17,170.37 L643.83,170.51 L644.50,170.65 L645.17,170.79 L645.83,170.92 L646.50,171.05 L647.17,171.17 L647.83,171.29 L648.50,171.41 L649.17,171.52 L649.83,171.63 L650.50,171.73 L651.17,171.83 L651.83,171.93 L652.50,172.02 L653.17,172.11 L653.83,172.19 L654.50,172.27 L655.17,172.35 L655.83,172.43 L656.50,172.51 L657.17,172.58 L657.83,172.65 L658.50,172.72 L659.17,172.78 L659.83,172.84 L660.50,172.91 L661.17,172.96 L661.83,173.02 L662.50,173.07 L663.17,173.12 L663.83,173.17 L664.50,173.21 L665.17,173.26 L665.83,173.30 L666.50,173.35 L667.17,173.39 L667.83,173.44 L668.50,173.48 L669.17,173.52 L669.83,173.55 L670.50,173.59 L671.17,173.63 L671.83,173.66 L672.50,173.69 L673.17,173.72 L673.83,173.75 L674.50,173.78 L675.17,173.80 L675.83,173.82 L676.50,173.84" fill="none" stroke="#800000" stroke-width="1.8" stroke-linejoin="round"/>
<path d="M516.50,174.28 L517.17,174.10 L517.83,173.93 L518.50,173.79 L519.17,173.66 L519.83,173.55 L520.50,173.45 L521.17,173.36 L521.83,173.29 L522.50,173.26 L523.17,173.35 L523.83,173.55 L524.50,173.75 L525.17,173.84 L525.83,173.82 L526.50,173.76 L527.17,173.67 L527.83,173.55 L528.50,173.41 L529.17,173.25 L529.83,173.09 L530.50,172.89 L531.17,172.63 L531.83,172.33 L532.50,171.97 L533.17,171.55 L533.83,171.09 L534.50,170.57 L535.17,170.01 L535.83,169.40 L536.50,168.73 L537.17,167.89 L537.83,166.77 L538.50,165.44 L539.17,163.91 L539.83,162.24 L540.50,160.42 L541.17,158.23 L541.83,155.67 L542.50,152.84 L543.17,149.81 L543.83,146.50 L544.50,142.74 L545.17,138.70 L545.83,134.51 L546.50,130.11 L547.17,125.44 L547.83,120.67 L548.50,115.88 L549.17,111.00 L549.83,106.04 L550.50,100.96 L551.17,95.78 L551.83,90.63 L552.50,85.54 L553.17,80.51 L553.83,75.73 L554.50,71.22 L555.17,66.89 L555.83,62.73 L556.50,58.62 L557.17,54.72 L557.83,51.25 L558.50,48.06 L559.17,45.14 L559.83,42.61 L560.50,40.46 L561.17,38.50 L561.83,36.76 L562.50,35.32 L563.17,34.22 L563.83,33.20 L564.50,32.24 L565.17,31.40 L565.83,30.76 L566.50,30.38 L567.17,30.31 L567.83,30.45 L568.50,30.74 L569.17,31.14 L569.83,31.59 L570.50,32.16 L571.17,33.01 L571.83,34.12 L572.50,35.41 L573.17,36.81 L573.83,38.49 L574.50,40.56 L575.17,42.87 L575.83,45.29 L576.50,47.66 L577.17,50.03 L577.83,52.47 L578.50,54.97 L579.17,57.48 L579.83,59.96 L580.50,62.42 L581.17,64.88 L581.83,67.34 L582.50,69.80 L583.17,72.26 L583.83,74.73 L584.50,77.22 L585.17,79.70 L585.83,82.15 L586.50,84.56 L587.17,86.95 L587.83,89.32 L588.50,91.65 L589.17,93.93 L589.83,96.14 L590.50,98.26 L591.17,100.32 L591.83,102.33 L592.50,104.31 L593.17,106.27 L593.83,108.22 L594.50,110.16 L595.17,112.06 L595.83,113.91 L596.50,115.67 L597.17,117.35 L597.83,118.97 L598.50,120.53 L599.17,122.06 L599.83,123.57 L600.50,125.08 L601.17,126.58 L601.83,128.06 L602.50,129.53 L603.17,130.97 L603.83,132.38 L604.50,133.76 L605.17,135.11 L605.83,136.44 L606.50,137.74 L607.17,139.00 L607.83,140.24 L608.50,141.43 L609.17,142.59 L609.83,143.72 L610.50,144.83 L611.17,145.91 L611.83,146.96 L612.50,147.97 L613.17,148.95 L613.83,149.90 L614.50,150.83 L615.17,151.72 L615.83,152.59 L616.50,153.43 L617.17,154.25 L617.83,155.03 L618.50,155.79 L619.17,156.54 L619.83,157.27 L620.50,157.97 L621.17,158.65 L621.83,159.31 L622.50,159.94 L623.17,160.53 L623.83,161.10 L624.50,161.66 L625.17,162.20 L625.83,162.73 L626.50,163.24 L627.17,163.73 L627.83,164.20 L628.50,164.64 L629.17,165.06 L629.83,165.45 L630.50,165.82 L631.17,166.17 L631.83,166.51 L632.50,166.84 L633.17,167.15 L633.83,167.44 L634.50,167.73 L635.17,168.00 L635.83,168.25 L636.50,168.49 L637.17,168.72 L637.83,168.93 L638.50,169.14 L639.17,169.35 L639.83,169.54 L640.50,169.72 L641.17,169.90 L641.83,170.06 L642.50,170.22 L643.17,170.37 L643.83,170.51 L644.50,170.65 L645.17,170.79 L645.83,170.92 L646.50,171.05 L647.17,171.17 L647.83,171.29 L648.50,171.41 L649.17,171.52 L649.83,171.63 L650.50,171.73 L651.17,171.83 L651.83,171.93 L652.50,172.02 L653.17,172.11 L653.83,172.19 L654.50,172.27 L655.17,172.35 L655.83,172.43 L656.50,172.51 L657.17,172.58 L657.83,172.65 L658.50,172.72 L659.17,172.78 L659.83,172.84 L660.50,172.91 L661.17,172.96 L661.83,173.02 L662.50,173.07 L663.17,173.12 L663.83,173.17 L664.50,173.21 L665.17,173.26 L665.83,173.30 L666.50,173.35 L667.17,173.39 L667.83,173.44 L668.50,173.48 L669.17,173.52 L669.83,173.55 L670.50,173.59 L671.17,173.63 L671.83,173.66 L672.50,173.69 L673.17,173.72 L673.83,173.75 L674.50,173.78 L675.17,173.80 L675.83,173.82 L676.50,173.84" fill="none" stroke="#008000" stroke-width="1.8" stroke-linejoin="round"/>
<path d="M516.50,174.28 L517.17,174.10 L517.83,173.93 L518.50,173.79 L519.17,173.66 L519.83,173.55 L520.50,173.45 L521.17,173.36 L521.83,173.29 L522.50,173.26 L523.17,173.35 L523.83,173.55 L524.50,173.75 L525.17,173.84 L525.83,173.80 L526.50,173.68 L527.17,173.51 L527.83,173.31 L528.50,173.10 L529.17,172.84 L529.83,172.52 L530.50,172.14 L531.17,171.70 L531.83,171.20 L532.50,170.64 L533.17,170.02 L533.83,169.35 L534.50,168.63 L535.17,167.72 L535.83,166.58 L536.50,165.25 L537.17,163.75 L537.83,162.12 L538.50,160.32 L539.17,158.16 L539.83,155.67 L540.50,152.92 L541.17,149.99 L541.83,146.82 L542.50,143.26 L543.17,139.42 L543.83,135.43 L544.50,131.31 L545.17,126.94 L545.83,122.43 L546.50,117.92 L547.17,113.35 L547.83,108.72 L548.50,104.02 L549.17,99.22 L549.83,94.37 L550.50,89.59 L551.17,84.84 L551.83,80.18 L552.50,75.74 L553.17,71.53 L553.83,67.48 L554.50,63.58 L555.17,59.75 L555.83,56.04 L556.50,52.63 L557.17,49.58 L557.83,46.71 L558.50,44.11 L559.17,41.88 L559.83,39.91 L560.50,38.08 L561.17,36.48 L561.83,35.16 L562.50,34.17 L563.17,33.23 L563.83,32.35 L564.50,31.57 L565.17,30.94 L565.83,30.50 L566.50,30.31 L567.17,30.36 L567.83,30.56 L568.50,30.89 L569.17,31.29 L569.83,31.75 L570.50,32.35 L571.17,33.20 L571.83,34.26 L572.50,35.47 L573.17,36.81 L573.83,38.46 L574.50,40.52 L575.17,42.85 L575.83,45.28 L576.50,47.66 L577.17,50.03 L577.83,52.47 L578.50,54.97 L579.17,57.48 L579.83,59.96 L580.50,62.42 L581.17,64.88 L581.83,67.34 L582.50,69.80 L583.17,72.26 L583.83,74.73 L584.50,77.22 L585.17,79.70 L585.83,82.15 L586.50,84.56 L587.17,86.95 L587.83,89.32 L588.50,91.65 L589.17,93.93 L589.83,96.14 L590.50,98.26 L591.17,100.32 L591.83,102.33 L592.50,104.31 L593.17,106.27 L593.83,108.22 L594.50,110.16 L595.17,112.06 L595.83,113.91 L596.50,115.67 L597.17,117.35 L597.83,118.97 L598.50,120.53 L599.17,122.06 L599.83,123.57 L600.50,125.08 L601.17,126.58 L601.83,128.06 L602.50,129.53 L603.17,130.97 L603.83,132.38 L604.50,133.76 L605.17,135.11 L605.83,136.44 L606.50,137.74 L607.17,139.00 L607.83,140.24 L608.50,141.43 L609.17,142.59 L609.83,143.72 L610.50,144.83 L611.17,145.91 L611.83,146.96 L612.50,147.97 L613.17,148.95 L613.83,149.90 L614.50,150.83 L615.17,151.72 L615.83,152.59 L616.50,153.43 L617.17,154.25 L617.83,155.03 L618.50,155.79 L619.17,156.54 L619.83,157.27 L620.50,157.97 L621.17,158.65 L621.83,159.31 L622.50,159.94 L623.17,160.53 L623.83,161.10 L624.50,161.66 L625.17,162.20 L625.83,162.73 L626.50,163.24 L627.17,163.73 L627.83,164.20 L628.50,164.64 L629.17,165.06 L629.83,165.45 L630.50,165.82 L631.17,166.17 L631.83,166.51 L632.50,166.84 L633.17,167.15 L633.83,167.44 L634.50,167.73 L635.17,168.00 L635.83,168.25 L636.50,168.49 L637.17,168.72 L637.83,168.93 L638.50,169.14 L639.17,169.35 L639.83,169.54 L640.50,169.72 L641.17,169.90 L641.83,170.06 L642.50,170.22 L643.17,170.37 L643.83,170.51 L644.50,170.65 L645.17,170.79 L645.83,170.92 L646.50,171.05 L647.17,171.17 L647.83,171.29 L648.50,171.41 L649.17,171.52 L649.83,171.63 L650.50,171.73 L651.17,171.83 L651.83,171.93 L652.50,172.02 L653.17,172.11 L653.83,172.19 L654.50,172.27 L655.17,172.35 L655.83,172.43 L656.50,172.51 L657.17,172.58 L657.83,172.65 L658.50,172.72 L659.17,172.78 L659.83,172.84 L660.50,172.91 L661.17,172.96 L661.83,173.02 L662.50,173.07 L663.17,173.12 L663.83,173.17 L664.50,173.21 L665.17,173.26 L665.83,173.30 L666.50,173.35 L667.17,173.39 L667.83,173.44 L668.50,173.48 L669.17,173.52 L669.83,173.55 L670.50,173.59 L671.17,173.63 L671.83,173.66 L672.50,173.69 L673.17,173.72 L673.83,173.75 L674.50,173.78 L675.17,173.80 L675.83,173.82 L676.50,173.84" fill="none" stroke="#ff2a2a" stroke-width="1.8" stroke-linejoin="round" stroke-opacity="0.6"/>
<rect x="516.5" y="15.4" width="160" height="159.6" fill="none" stroke="#3a3a3a" stroke-width="1.1"/>
<line x1="516.50" y1="175.0" x2="516.50" y2="179.0" stroke="#333" stroke-width="1"/>
<text x="516.50" y="191.8" font-size="12" text-anchor="middle" fill="#1a1a1a">320</text>
<line x1="529.83" y1="175.0" x2="529.83" y2="177.0" stroke="#333" stroke-width="1"/>
<line x1="543.17" y1="175.0" x2="543.17" y2="177.0" stroke="#333" stroke-width="1"/>
<line x1="556.50" y1="175.0" x2="556.50" y2="179.0" stroke="#333" stroke-width="1"/>
<text x="556.50" y="191.8" font-size="12" text-anchor="middle" fill="#1a1a1a">380</text>
<line x1="569.83" y1="175.0" x2="569.83" y2="177.0" stroke="#333" stroke-width="1"/>
<line x1="583.17" y1="175.0" x2="583.17" y2="177.0" stroke="#333" stroke-width="1"/>
<line x1="596.50" y1="175.0" x2="596.50" y2="179.0" stroke="#333" stroke-width="1"/>
<text x="596.50" y="191.8" font-size="12" text-anchor="middle" fill="#1a1a1a">440</text>
<line x1="609.83" y1="175.0" x2="609.83" y2="177.0" stroke="#333" stroke-width="1"/>
<line x1="623.17" y1="175.0" x2="623.17" y2="177.0" stroke="#333" stroke-width="1"/>
<line x1="636.50" y1="175.0" x2="636.50" y2="179.0" stroke="#333" stroke-width="1"/>
<text x="636.50" y="191.8" font-size="12" text-anchor="middle" fill="#1a1a1a">500</text>
<line x1="649.83" y1="175.0" x2="649.83" y2="177.0" stroke="#333" stroke-width="1"/>
<line x1="663.17" y1="175.0" x2="663.17" y2="177.0" stroke="#333" stroke-width="1"/>
<line x1="676.50" y1="175.0" x2="676.50" y2="179.0" stroke="#333" stroke-width="1"/>
<text x="676.50" y="191.8" font-size="12" text-anchor="middle" fill="#1a1a1a">560</text>
<line x1="512.5" y1="175.00" x2="516.5" y2="175.00" stroke="#333" stroke-width="1"/>
<text x="511.0" y="179.30" font-size="12" text-anchor="end" fill="#1a1a1a">0.0</text>
<line x1="514.5" y1="160.53" x2="516.5" y2="160.53" stroke="#333" stroke-width="1"/>
<line x1="512.5" y1="146.06" x2="516.5" y2="146.06" stroke="#333" stroke-width="1"/>
<text x="511.0" y="150.36" font-size="12" text-anchor="end" fill="#1a1a1a">0.2</text>
<line x1="514.5" y1="131.59" x2="516.5" y2="131.59" stroke="#333" stroke-width="1"/>
<line x1="512.5" y1="117.12" x2="516.5" y2="117.12" stroke="#333" stroke-width="1"/>
<text x="511.0" y="121.42" font-size="12" text-anchor="end" fill="#1a1a1a">0.4</text>
<line x1="514.5" y1="102.65" x2="516.5" y2="102.65" stroke="#333" stroke-width="1"/>
<line x1="512.5" y1="88.18" x2="516.5" y2="88.18" stroke="#333" stroke-width="1"/>
<text x="511.0" y="92.48" font-size="12" text-anchor="end" fill="#1a1a1a">0.6</text>
<line x1="514.5" y1="73.71" x2="516.5" y2="73.71" stroke="#333" stroke-width="1"/>
<line x1="512.5" y1="59.24" x2="516.5" y2="59.24" stroke="#333" stroke-width="1"/>
<text x="511.0" y="63.54" font-size="12" text-anchor="end" fill="#1a1a1a">0.8</text>
<line x1="514.5" y1="44.77" x2="516.5" y2="44.77" stroke="#333" stroke-width="1"/>
<line x1="512.5" y1="30.30" x2="516.5" y2="30.30" stroke="#333" stroke-width="1"/>
<text x="511.0" y="34.60" font-size="12" text-anchor="end" fill="#1a1a1a">1.0</text>
<line x1="514.5" y1="15.83" x2="516.5" y2="15.83" stroke="#333" stroke-width="1"/>
<text x="590.5" y="209" font-size="12.6" text-anchor="middle" font-weight="bold" fill="#000" textLength="101.5" lengthAdjust="spacingAndGlyphs">Wavelength (nm)</text>
<text x="0" y="0" font-size="12.6" font-weight="bold" text-anchor="middle" textLength="142.5" lengthAdjust="spacingAndGlyphs" transform="translate(484.7,95.2) rotate(-90)">Normalized PL intensity</text>
<text x="465.0" y="10.8" font-size="14.5" font-weight="bold" fill="#000">c</text>
<text x="547.5" y="27.2" font-size="10.5" fill="#1a1a1a">395 nm</text>
<text x="630.3" y="30" font-size="10.5" text-anchor="middle">11-NB-8DMe-<tspan font-style="italic">anti</tspan></text>
<text x="627.1999999999999" y="43.0" font-size="10.5" text-anchor="middle" fill="#000">Temp. (K)</text>
<rect x="606.9" y="46.6" width="23.8" height="11.6" fill="url(#lgR)" stroke="#ff3a3a" stroke-width="1.1"/>
<text x="633.8" y="56.0" font-size="10.5" fill="#000">320</text>
<line x1="607.4" y1="65.1" x2="630.4" y2="65.1" stroke="#008000" stroke-width="1.5"/>
<text x="633.8" y="68.9" font-size="10.5" fill="#000">280</text>
<line x1="607.4" y1="78.0" x2="630.4" y2="78.0" stroke="#800000" stroke-width="1.5"/>
<text x="633.8" y="81.8" font-size="10.5" fill="#000">240</text>
<rect x="606.9" y="85.5" width="23.8" height="11.6" fill="url(#lgB)" stroke="#4040ff" stroke-width="1.1"/>
<text x="633.8" y="95.0" font-size="10.5" fill="#000">200</text>
<circle cx="619" cy="120.1" r="15.4" fill="#3a1ee8"/>
<text x="619" y="124.0" font-size="10.5" text-anchor="middle" font-weight="bold" fill="#fff">RT</text>
<circle cx="653.4" cy="120.1" r="15.4" fill="#220c9c"/>
<text x="653.4" y="124.0" font-size="10.5" text-anchor="middle" font-weight="bold" fill="#fff">200K</text>
<defs><linearGradient id="blueBar" x1="0" y1="0" x2="1" y2="0"><stop offset="0" stop-color="#0b8fe0"/><stop offset="0.35" stop-color="#0aa0ec"/><stop offset="1" stop-color="#0a8ce0"/></linearGradient></defs>
<text x="-0.6" y="231.9" font-size="14.5" font-weight="bold" fill="#000">d</text>
<polygon points="54.2,240.1 71.8,247.3 80.7,261.0 73.4,270.6 53.4,265.0 42.9,248.1" fill="#e8837d" stroke="#e8837d" stroke-width="2.5" stroke-linejoin="round"/>
<polygon points="80.7,261.0 93.5,265.8 101.5,277.5 98.0,289.0 83.1,285.8 73.4,270.6" fill="#e8837d" stroke="#e8837d" stroke-width="2.5" stroke-linejoin="round"/>
<polygon points="107.1,302.8 122.8,302.5 129.4,316.0 122.5,330.9 107.1,333.3 99.4,318.5" fill="#e8837d" stroke="#e8837d" stroke-width="2.5" stroke-linejoin="round"/>
<polygon points="131.3,287.4 132.3,276.5 141.2,263.2 149.2,263.7 148.2,276.0 140.2,286.4" fill="#e8837d" stroke="#e8837d" stroke-width="2.5" stroke-linejoin="round"/>
<polygon points="149.2,263.7 156.6,252.8 163.0,253.8 160.0,265.6 154.1,275.5 148.2,276.0" fill="#e8837d" stroke="#e8837d" stroke-width="2.5" stroke-linejoin="round"/>
<line x1="54.2" y1="240.1" x2="71.8" y2="247.3" stroke="#e07b76" stroke-width="2.3"/>
<line x1="71.8" y1="247.3" x2="80.7" y2="261.0" stroke="#e07b76" stroke-width="2.3"/>
<line x1="80.7" y1="261.0" x2="73.4" y2="270.6" stroke="#e07b76" stroke-width="2.3"/>
<line x1="73.4" y1="270.6" x2="53.4" y2="265.0" stroke="#e07b76" stroke-width="2.3"/>
<line x1="53.4" y1="265.0" x2="42.9" y2="248.1" stroke="#e07b76" stroke-width="2.3"/>
<line x1="42.9" y1="248.1" x2="54.2" y2="240.1" stroke="#e07b76" stroke-width="2.3"/>
<line x1="80.7" y1="261.0" x2="93.5" y2="265.8" stroke="#e07b76" stroke-width="2.3"/>
<line x1="93.5" y1="265.8" x2="101.5" y2="277.5" stroke="#e07b76" stroke-width="2.3"/>
<line x1="101.5" y1="277.5" x2="98.0" y2="289.0" stroke="#e07b76" stroke-width="2.3"/>
<line x1="98.0" y1="289.0" x2="83.1" y2="285.8" stroke="#e07b76" stroke-width="2.3"/>
<line x1="83.1" y1="285.8" x2="73.4" y2="270.6" stroke="#e07b76" stroke-width="2.3"/>
<line x1="73.4" y1="270.6" x2="80.7" y2="261.0" stroke="#e07b76" stroke-width="2.3"/>
<line x1="107.1" y1="302.8" x2="122.8" y2="302.5" stroke="#e07b76" stroke-width="2.3"/>
<line x1="122.8" y1="302.5" x2="129.4" y2="316.0" stroke="#e07b76" stroke-width="2.3"/>
<line x1="129.4" y1="316.0" x2="122.5" y2="330.9" stroke="#e07b76" stroke-width="2.3"/>
<line x1="122.5" y1="330.9" x2="107.1" y2="333.3" stroke="#e07b76" stroke-width="2.3"/>
<line x1="107.1" y1="333.3" x2="99.4" y2="318.5" stroke="#e07b76" stroke-width="2.3"/>
<line x1="99.4" y1="318.5" x2="107.1" y2="302.8" stroke="#e07b76" stroke-width="2.3"/>
<line x1="131.3" y1="287.4" x2="132.3" y2="276.5" stroke="#e07b76" stroke-width="2.3"/>
<line x1="132.3" y1="276.5" x2="141.2" y2="263.2" stroke="#e07b76" stroke-width="2.3"/>
<line x1="141.2" y1="263.2" x2="149.2" y2="263.7" stroke="#e07b76" stroke-width="2.3"/>
<line x1="149.2" y1="263.7" x2="148.2" y2="276.0" stroke="#e07b76" stroke-width="2.3"/>
<line x1="148.2" y1="276.0" x2="140.2" y2="286.4" stroke="#e07b76" stroke-width="2.3"/>
<line x1="140.2" y1="286.4" x2="131.3" y2="287.4" stroke="#e07b76" stroke-width="2.3"/>
<line x1="149.2" y1="263.7" x2="156.6" y2="252.8" stroke="#e07b76" stroke-width="2.3"/>
<line x1="156.6" y1="252.8" x2="163.0" y2="253.8" stroke="#e07b76" stroke-width="2.3"/>
<line x1="163.0" y1="253.8" x2="160.0" y2="265.6" stroke="#e07b76" stroke-width="2.3"/>
<line x1="160.0" y1="265.6" x2="154.1" y2="275.5" stroke="#e07b76" stroke-width="2.3"/>
<line x1="154.1" y1="275.5" x2="148.2" y2="276.0" stroke="#e07b76" stroke-width="2.3"/>
<line x1="148.2" y1="276.0" x2="149.2" y2="263.7" stroke="#e07b76" stroke-width="2.3"/>
<line x1="98.0" y1="289.0" x2="107.1" y2="302.8" stroke="#e07b76" stroke-width="2.3"/>
<line x1="122.8" y1="302.5" x2="131.3" y2="287.4" stroke="#e07b76" stroke-width="2.3"/>
<line x1="54.2" y1="240.1" x2="50.5" y2="234.4" stroke="#e07b76" stroke-width="1.9"/>
<line x1="50.5" y1="234.4" x2="46.9" y2="228.8" stroke="#12a2da" stroke-width="1.9"/>
<line x1="42.9" y1="248.1" x2="33.3" y2="244.5" stroke="#e07b76" stroke-width="1.9"/>
<line x1="33.3" y1="244.5" x2="23.7" y2="240.9" stroke="#12a2da" stroke-width="1.9"/>
<line x1="53.4" y1="265.0" x2="48.5" y2="269.8" stroke="#e07b76" stroke-width="1.9"/>
<line x1="48.5" y1="269.8" x2="43.7" y2="274.6" stroke="#12a2da" stroke-width="1.9"/>
<line x1="71.8" y1="247.3" x2="73.8" y2="244.9" stroke="#e07b76" stroke-width="1.9"/>
<line x1="73.8" y1="244.9" x2="75.8" y2="242.5" stroke="#12a2da" stroke-width="1.9"/>
<line x1="93.5" y1="265.8" x2="95.0" y2="263.0" stroke="#e07b76" stroke-width="1.9"/>
<line x1="95.0" y1="263.0" x2="96.4" y2="260.1" stroke="#12a2da" stroke-width="1.9"/>
<line x1="101.5" y1="277.5" x2="105.5" y2="278.9" stroke="#e07b76" stroke-width="1.9"/>
<line x1="105.5" y1="278.9" x2="109.6" y2="280.2" stroke="#12a2da" stroke-width="1.9"/>
<line x1="83.1" y1="285.8" x2="80.9" y2="291.3" stroke="#e07b76" stroke-width="1.9"/>
<line x1="80.9" y1="291.3" x2="78.7" y2="296.8" stroke="#12a2da" stroke-width="1.9"/>
<line x1="99.4" y1="318.5" x2="92.6" y2="319.6" stroke="#e07b76" stroke-width="1.9"/>
<line x1="92.6" y1="319.6" x2="85.7" y2="320.6" stroke="#12a2da" stroke-width="1.9"/>
<line x1="129.4" y1="316.0" x2="134.4" y2="315.9" stroke="#e07b76" stroke-width="1.9"/>
<line x1="134.4" y1="315.9" x2="139.3" y2="315.7" stroke="#12a2da" stroke-width="1.9"/>
<line x1="107.1" y1="333.3" x2="103.8" y2="339.6" stroke="#e07b76" stroke-width="1.9"/>
<line x1="103.8" y1="339.6" x2="100.5" y2="346.0" stroke="#12a2da" stroke-width="1.9"/>
<line x1="122.5" y1="330.9" x2="125.0" y2="335.9" stroke="#e07b76" stroke-width="1.9"/>
<line x1="125.0" y1="335.9" x2="127.4" y2="340.8" stroke="#12a2da" stroke-width="1.9"/>
<line x1="132.3" y1="276.5" x2="128.4" y2="276.8" stroke="#e07b76" stroke-width="1.9"/>
<line x1="128.4" y1="276.8" x2="124.4" y2="277.0" stroke="#12a2da" stroke-width="1.9"/>
<line x1="141.2" y1="263.2" x2="141.4" y2="257.5" stroke="#e07b76" stroke-width="1.9"/>
<line x1="141.4" y1="257.5" x2="141.7" y2="251.8" stroke="#12a2da" stroke-width="1.9"/>
<line x1="156.6" y1="252.8" x2="157.3" y2="247.1" stroke="#e07b76" stroke-width="1.9"/>
<line x1="157.3" y1="247.1" x2="158.1" y2="241.4" stroke="#12a2da" stroke-width="1.9"/>
<line x1="163.0" y1="253.8" x2="165.0" y2="250.1" stroke="#e07b76" stroke-width="1.9"/>
<line x1="165.0" y1="250.1" x2="167.0" y2="246.3" stroke="#12a2da" stroke-width="1.9"/>
<line x1="160.0" y1="265.6" x2="162.0" y2="266.1" stroke="#e07b76" stroke-width="1.9"/>
<line x1="162.0" y1="266.1" x2="164.0" y2="266.6" stroke="#12a2da" stroke-width="1.9"/>
<line x1="154.1" y1="275.5" x2="153.3" y2="279.2" stroke="#e07b76" stroke-width="1.9"/>
<line x1="153.3" y1="279.2" x2="152.6" y2="283.0" stroke="#12a2da" stroke-width="1.9"/>
<line x1="140.2" y1="286.4" x2="139.8" y2="290.5" stroke="#e07b76" stroke-width="1.9"/>
<line x1="139.8" y1="290.5" x2="139.3" y2="294.6" stroke="#12a2da" stroke-width="1.9"/>
<circle cx="54.2" cy="240.1" r="5.3" fill="url(#sp)"/>
<circle cx="42.9" cy="248.1" r="5.6" fill="url(#sp)"/>
<circle cx="53.4" cy="265.0" r="5.6" fill="url(#sp)"/>
<circle cx="73.4" cy="270.6" r="5.0" fill="url(#sp)"/>
<circle cx="80.7" cy="261.0" r="4.5" fill="url(#sp)"/>
<circle cx="71.8" cy="247.3" r="4.5" fill="url(#sp)"/>
<circle cx="93.5" cy="265.8" r="4.2" fill="url(#sp)"/>
<circle cx="101.5" cy="277.5" r="4.2" fill="url(#sp)"/>
<circle cx="98.0" cy="289.0" r="4.3" fill="url(#sp)"/>
<circle cx="83.1" cy="285.8" r="4.8" fill="url(#sp)"/>
<circle cx="107.1" cy="302.8" r="4.6" fill="url(#sp)"/>
<circle cx="122.8" cy="302.5" r="4.4" fill="url(#sp)"/>
<circle cx="129.4" cy="316.0" r="4.4" fill="url(#sp)"/>
<circle cx="122.5" cy="330.9" r="4.6" fill="url(#sp)"/>
<circle cx="107.1" cy="333.3" r="4.9" fill="url(#sp)"/>
<circle cx="99.4" cy="318.5" r="4.9" fill="url(#sp)"/>
<circle cx="46.9" cy="228.8" r="3.0" fill="url(#sc)"/>
<circle cx="23.7" cy="240.9" r="3.9" fill="url(#sc)"/>
<circle cx="43.7" cy="274.6" r="3.6" fill="url(#sc)"/>
<circle cx="75.8" cy="242.5" r="2.5" fill="url(#sc)"/>
<circle cx="96.4" cy="260.1" r="2.5" fill="url(#sc)"/>
<circle cx="109.6" cy="280.2" r="2.5" fill="url(#sc)"/>
<circle cx="78.7" cy="296.8" r="3.3" fill="url(#sc)"/>
<circle cx="85.7" cy="320.6" r="3.1" fill="url(#sc)"/>
<circle cx="139.3" cy="315.7" r="2.8" fill="url(#sc)"/>
<circle cx="100.5" cy="346.0" r="3.4" fill="url(#sc)"/>
<circle cx="127.4" cy="340.8" r="3.0" fill="url(#sc)"/>
<circle cx="163.0" cy="253.8" r="3.9" fill="url(#sp)"/>
<circle cx="156.6" cy="252.8" r="4.3" fill="url(#sp)"/>
<circle cx="160.0" cy="265.6" r="3.9" fill="url(#sp)"/>
<circle cx="154.1" cy="275.5" r="3.9" fill="url(#sp)"/>
<circle cx="167.0" cy="246.3" r="2.9" fill="url(#sc)"/>
<circle cx="158.1" cy="241.4" r="3.1" fill="url(#sc)"/>
<circle cx="164.0" cy="266.6" r="2.0" fill="url(#sc)"/>
<circle cx="152.6" cy="283.0" r="2.8" fill="url(#sc)"/>
<circle cx="149.2" cy="263.7" r="4.3" fill="url(#sp)"/>
<circle cx="148.2" cy="276.0" r="4.1" fill="url(#sp)"/>
<circle cx="140.2" cy="286.4" r="4.0" fill="url(#sp)"/>
<circle cx="139.3" cy="294.6" r="2.3" fill="url(#sc)"/>
<circle cx="141.2" cy="263.2" r="4.9" fill="url(#sp)"/>
<circle cx="132.3" cy="276.5" r="4.6" fill="url(#sp)"/>
<circle cx="131.3" cy="287.4" r="4.4" fill="url(#sp)"/>
<circle cx="141.7" cy="251.8" r="3.3" fill="url(#sc)"/>
<circle cx="124.4" cy="277.0" r="3.3" fill="url(#sc)"/>
<polygon points="216.4,247.5 229.8,253.4 235.7,269.0 231.2,283.9 217.1,283.1 208.2,263.8" fill="#0fa6dd" stroke="#0fa6dd" stroke-width="2.5" stroke-linejoin="round"/>
<polygon points="229.8,253.4 234.2,241.5 242.4,246.0 244.6,259.4 243.1,271.2 235.7,269.0" fill="#0fa6dd" stroke="#0fa6dd" stroke-width="2.5" stroke-linejoin="round"/>
<polygon points="240.9,299.0 257.2,297.7 264.1,311.7 256.3,326.8 240.0,328.9 232.7,314.4" fill="#0fa6dd" stroke="#0fa6dd" stroke-width="2.5" stroke-linejoin="round"/>
<polygon points="265.9,283.6 266.9,271.7 276.8,258.3 284.2,257.8 284.7,267.2 281.7,275.6 274.8,285.5 269.9,289.0" fill="#0fa6dd" stroke="#0fa6dd" stroke-width="2.5" stroke-linejoin="round"/>
<line x1="216.4" y1="247.5" x2="229.8" y2="253.4" stroke="#10a0d8" stroke-width="2.3"/>
<line x1="229.8" y1="253.4" x2="235.7" y2="269.0" stroke="#10a0d8" stroke-width="2.3"/>
<line x1="235.7" y1="269.0" x2="231.2" y2="283.9" stroke="#10a0d8" stroke-width="2.3"/>
<line x1="231.2" y1="283.9" x2="217.1" y2="283.1" stroke="#10a0d8" stroke-width="2.3"/>
<line x1="217.1" y1="283.1" x2="208.2" y2="263.8" stroke="#10a0d8" stroke-width="2.3"/>
<line x1="208.2" y1="263.8" x2="216.4" y2="247.5" stroke="#10a0d8" stroke-width="2.3"/>
<line x1="229.8" y1="253.4" x2="234.2" y2="241.5" stroke="#10a0d8" stroke-width="2.3"/>
<line x1="234.2" y1="241.5" x2="242.4" y2="246.0" stroke="#10a0d8" stroke-width="2.3"/>
<line x1="242.4" y1="246.0" x2="244.6" y2="259.4" stroke="#10a0d8" stroke-width="2.3"/>
<line x1="244.6" y1="259.4" x2="243.1" y2="271.2" stroke="#10a0d8" stroke-width="2.3"/>
<line x1="243.1" y1="271.2" x2="235.7" y2="269.0" stroke="#10a0d8" stroke-width="2.3"/>
<line x1="235.7" y1="269.0" x2="229.8" y2="253.4" stroke="#10a0d8" stroke-width="2.3"/>
<line x1="240.9" y1="299.0" x2="257.2" y2="297.7" stroke="#10a0d8" stroke-width="2.3"/>
<line x1="257.2" y1="297.7" x2="264.1" y2="311.7" stroke="#10a0d8" stroke-width="2.3"/>
<line x1="264.1" y1="311.7" x2="256.3" y2="326.8" stroke="#10a0d8" stroke-width="2.3"/>
<line x1="256.3" y1="326.8" x2="240.0" y2="328.9" stroke="#10a0d8" stroke-width="2.3"/>
<line x1="240.0" y1="328.9" x2="232.7" y2="314.4" stroke="#10a0d8" stroke-width="2.3"/>
<line x1="232.7" y1="314.4" x2="240.9" y2="299.0" stroke="#10a0d8" stroke-width="2.3"/>
<line x1="265.9" y1="283.6" x2="266.9" y2="271.7" stroke="#10a0d8" stroke-width="2.3"/>
<line x1="266.9" y1="271.7" x2="276.8" y2="258.3" stroke="#10a0d8" stroke-width="2.3"/>
<line x1="276.8" y1="258.3" x2="284.2" y2="257.8" stroke="#10a0d8" stroke-width="2.3"/>
<line x1="284.2" y1="257.8" x2="284.7" y2="267.2" stroke="#10a0d8" stroke-width="2.3"/>
<line x1="284.7" y1="267.2" x2="281.7" y2="275.6" stroke="#10a0d8" stroke-width="2.3"/>
<line x1="281.7" y1="275.6" x2="274.8" y2="285.5" stroke="#10a0d8" stroke-width="2.3"/>
<line x1="274.8" y1="285.5" x2="269.9" y2="289.0" stroke="#10a0d8" stroke-width="2.3"/>
<line x1="269.9" y1="289.0" x2="265.9" y2="283.6" stroke="#10a0d8" stroke-width="2.3"/>
<line x1="231.2" y1="283.9" x2="240.9" y2="299.0" stroke="#10a0d8" stroke-width="2.3"/>
<line x1="257.2" y1="297.7" x2="269.9" y2="289.0" stroke="#10a0d8" stroke-width="2.3"/>
<line x1="216.4" y1="247.5" x2="213.1" y2="240.1" stroke="#12a2da" stroke-width="1.9"/>
<line x1="213.1" y1="240.1" x2="209.7" y2="232.6" stroke="#e07b76" stroke-width="1.9"/>
<line x1="208.2" y1="263.8" x2="199.6" y2="262.3" stroke="#12a2da" stroke-width="1.9"/>
<line x1="199.6" y1="262.3" x2="191.1" y2="260.8" stroke="#e07b76" stroke-width="1.9"/>
<line x1="217.1" y1="283.1" x2="214.5" y2="290.1" stroke="#12a2da" stroke-width="1.9"/>
<line x1="214.5" y1="290.1" x2="211.9" y2="297.2" stroke="#e07b76" stroke-width="1.9"/>
<line x1="234.2" y1="241.5" x2="232.3" y2="235.2" stroke="#12a2da" stroke-width="1.9"/>
<line x1="232.3" y1="235.2" x2="230.5" y2="228.9" stroke="#e07b76" stroke-width="1.9"/>
<line x1="242.4" y1="246.0" x2="243.2" y2="242.7" stroke="#12a2da" stroke-width="1.9"/>
<line x1="243.2" y1="242.7" x2="243.9" y2="239.3" stroke="#e07b76" stroke-width="1.9"/>
<line x1="243.1" y1="271.2" x2="243.1" y2="275.7" stroke="#12a2da" stroke-width="1.9"/>
<line x1="243.1" y1="275.7" x2="243.1" y2="280.2" stroke="#e07b76" stroke-width="1.9"/>
<line x1="264.1" y1="311.7" x2="268.9" y2="311.2" stroke="#12a2da" stroke-width="1.9"/>
<line x1="268.9" y1="311.2" x2="273.6" y2="310.8" stroke="#e07b76" stroke-width="1.9"/>
<line x1="256.3" y1="326.8" x2="259.1" y2="331.5" stroke="#12a2da" stroke-width="1.9"/>
<line x1="259.1" y1="331.5" x2="261.8" y2="336.2" stroke="#e07b76" stroke-width="1.9"/>
<line x1="240.0" y1="328.9" x2="236.8" y2="335.2" stroke="#12a2da" stroke-width="1.9"/>
<line x1="236.8" y1="335.2" x2="233.6" y2="341.6" stroke="#e07b76" stroke-width="1.9"/>
<line x1="232.7" y1="314.4" x2="226.1" y2="315.4" stroke="#12a2da" stroke-width="1.9"/>
<line x1="226.1" y1="315.4" x2="219.5" y2="316.5" stroke="#e07b76" stroke-width="1.9"/>
<line x1="276.8" y1="258.3" x2="277.8" y2="252.4" stroke="#12a2da" stroke-width="1.9"/>
<line x1="277.8" y1="252.4" x2="278.8" y2="246.4" stroke="#e07b76" stroke-width="1.9"/>
<line x1="284.2" y1="257.8" x2="286.7" y2="253.1" stroke="#12a2da" stroke-width="1.9"/>
<line x1="286.7" y1="253.1" x2="289.2" y2="248.4" stroke="#e07b76" stroke-width="1.9"/>
<line x1="284.7" y1="267.2" x2="287.6" y2="263.5" stroke="#12a2da" stroke-width="1.9"/>
<line x1="287.6" y1="263.5" x2="290.6" y2="259.8" stroke="#e07b76" stroke-width="1.9"/>
<line x1="266.9" y1="271.7" x2="263.6" y2="273.4" stroke="#12a2da" stroke-width="1.9"/>
<line x1="263.6" y1="273.4" x2="260.4" y2="275.1" stroke="#e07b76" stroke-width="1.9"/>
<line x1="265.9" y1="283.6" x2="265.1" y2="289.8" stroke="#12a2da" stroke-width="1.9"/>
<line x1="265.1" y1="289.8" x2="264.4" y2="296.0" stroke="#e07b76" stroke-width="1.9"/>
<circle cx="234.2" cy="241.5" r="5.0" fill="url(#sc)"/>
<circle cx="242.4" cy="246.0" r="4.2" fill="url(#sc)"/>
<circle cx="244.6" cy="259.4" r="4.0" fill="url(#sc)"/>
<circle cx="243.1" cy="271.2" r="3.8" fill="url(#sc)"/>
<circle cx="230.5" cy="228.9" r="3.3" fill="url(#sp)"/>
<circle cx="243.9" cy="239.3" r="2.3" fill="url(#sp)"/>
<circle cx="243.1" cy="280.2" r="2.2" fill="url(#sp)"/>
<circle cx="216.4" cy="247.5" r="5.6" fill="url(#sc)"/>
<circle cx="229.8" cy="253.4" r="4.9" fill="url(#sc)"/>
<circle cx="235.7" cy="269.0" r="4.6" fill="url(#sc)"/>
<circle cx="231.2" cy="283.9" r="5.1" fill="url(#sc)"/>
<circle cx="217.1" cy="283.1" r="5.6" fill="url(#sc)"/>
<circle cx="208.2" cy="263.8" r="6.5" fill="url(#sc)"/>
<circle cx="209.7" cy="232.6" r="3.5" fill="url(#sp)"/>
<circle cx="191.1" cy="260.8" r="4.0" fill="url(#sp)"/>
<circle cx="211.9" cy="297.2" r="3.5" fill="url(#sp)"/>
<circle cx="240.9" cy="299.0" r="4.9" fill="url(#sc)"/>
<circle cx="257.2" cy="297.7" r="4.6" fill="url(#sc)"/>
<circle cx="264.1" cy="311.7" r="4.6" fill="url(#sc)"/>
<circle cx="256.3" cy="326.8" r="4.9" fill="url(#sc)"/>
<circle cx="240.0" cy="328.9" r="5.1" fill="url(#sc)"/>
<circle cx="232.7" cy="314.4" r="5.1" fill="url(#sc)"/>
<circle cx="273.6" cy="310.8" r="2.8" fill="url(#sp)"/>
<circle cx="261.8" cy="336.2" r="2.9" fill="url(#sp)"/>
<circle cx="233.6" cy="341.6" r="3.1" fill="url(#sp)"/>
<circle cx="219.5" cy="316.5" r="3.0" fill="url(#sp)"/>
<circle cx="284.2" cy="257.8" r="4.6" fill="url(#sc)"/>
<circle cx="284.7" cy="267.2" r="4.0" fill="url(#sc)"/>
<circle cx="281.7" cy="275.6" r="4.0" fill="url(#sc)"/>
<circle cx="281.7" cy="268.7" r="4.0" fill="url(#sc)"/>
<circle cx="274.8" cy="285.5" r="4.0" fill="url(#sc)"/>
<circle cx="269.9" cy="289.0" r="3.8" fill="url(#sc)"/>
<circle cx="276.8" cy="258.3" r="5.5" fill="url(#sc)"/>
<circle cx="266.9" cy="271.7" r="5.5" fill="url(#sc)"/>
<circle cx="272.8" cy="279.6" r="5.0" fill="url(#sc)"/>
<circle cx="265.9" cy="283.6" r="5.0" fill="url(#sc)"/>
<circle cx="278.8" cy="246.4" r="3.5" fill="url(#sp)"/>
<circle cx="289.2" cy="248.4" r="3.0" fill="url(#sp)"/>
<circle cx="290.6" cy="259.8" r="2.5" fill="url(#sp)"/>
<circle cx="260.4" cy="275.1" r="3.0" fill="url(#sp)"/>
<circle cx="264.4" cy="296.0" r="2.3" fill="url(#sp)"/>
<circle cx="285.5" cy="274.5" r="1.8" fill="url(#sp)"/>
<polygon points="364.1,241.8 358.9,246.4 356.2,262.9 354.9,274.8 358.2,286.6 363.5,288.0 364.1,276.1 365.5,260.2" fill="#0fa6dd" stroke="#0fa6dd" stroke-width="2.5" stroke-linejoin="round"/>
<polygon points="372.2,301.9 387.6,302.6 395.8,316.9 388.3,329.8 373.3,327.7 366.8,313.7" fill="#0fa6dd" stroke="#0fa6dd" stroke-width="2.5" stroke-linejoin="round"/>
<polygon points="397.5,260.0 392.6,249.3 386.1,253.6 385.0,265.4 386.1,276.2 393.6,275.1" fill="#0fa6dd" stroke="#0fa6dd" stroke-width="2.5" stroke-linejoin="round"/>
<polygon points="397.5,260.0 409.7,256.8 419.4,272.9 409.7,289.0 396.9,289.0 393.6,275.1" fill="#0fa6dd" stroke="#0fa6dd" stroke-width="2.5" stroke-linejoin="round"/>
<line x1="364.1" y1="241.8" x2="358.9" y2="246.4" stroke="#10a0d8" stroke-width="2.3"/>
<line x1="358.9" y1="246.4" x2="356.2" y2="262.9" stroke="#10a0d8" stroke-width="2.3"/>
<line x1="356.2" y1="262.9" x2="354.9" y2="274.8" stroke="#10a0d8" stroke-width="2.3"/>
<line x1="354.9" y1="274.8" x2="358.2" y2="286.6" stroke="#10a0d8" stroke-width="2.3"/>
<line x1="358.2" y1="286.6" x2="363.5" y2="288.0" stroke="#10a0d8" stroke-width="2.3"/>
<line x1="363.5" y1="288.0" x2="364.1" y2="276.1" stroke="#10a0d8" stroke-width="2.3"/>
<line x1="364.1" y1="276.1" x2="365.5" y2="260.2" stroke="#10a0d8" stroke-width="2.3"/>
<line x1="365.5" y1="260.2" x2="364.1" y2="241.8" stroke="#10a0d8" stroke-width="2.3"/>
<line x1="372.2" y1="301.9" x2="387.6" y2="302.6" stroke="#10a0d8" stroke-width="2.3"/>
<line x1="387.6" y1="302.6" x2="395.8" y2="316.9" stroke="#10a0d8" stroke-width="2.3"/>
<line x1="395.8" y1="316.9" x2="388.3" y2="329.8" stroke="#10a0d8" stroke-width="2.3"/>
<line x1="388.3" y1="329.8" x2="373.3" y2="327.7" stroke="#10a0d8" stroke-width="2.3"/>
<line x1="373.3" y1="327.7" x2="366.8" y2="313.7" stroke="#10a0d8" stroke-width="2.3"/>
<line x1="366.8" y1="313.7" x2="372.2" y2="301.9" stroke="#10a0d8" stroke-width="2.3"/>
<line x1="397.5" y1="260.0" x2="392.6" y2="249.3" stroke="#10a0d8" stroke-width="2.3"/>
<line x1="392.6" y1="249.3" x2="386.1" y2="253.6" stroke="#10a0d8" stroke-width="2.3"/>
<line x1="386.1" y1="253.6" x2="385.0" y2="265.4" stroke="#10a0d8" stroke-width="2.3"/>
<line x1="385.0" y1="265.4" x2="386.1" y2="276.2" stroke="#10a0d8" stroke-width="2.3"/>
<line x1="386.1" y1="276.2" x2="393.6" y2="275.1" stroke="#10a0d8" stroke-width="2.3"/>
<line x1="393.6" y1="275.1" x2="397.5" y2="260.0" stroke="#10a0d8" stroke-width="2.3"/>
<line x1="397.5" y1="260.0" x2="409.7" y2="256.8" stroke="#10a0d8" stroke-width="2.3"/>
<line x1="409.7" y1="256.8" x2="419.4" y2="272.9" stroke="#10a0d8" stroke-width="2.3"/>
<line x1="419.4" y1="272.9" x2="409.7" y2="289.0" stroke="#10a0d8" stroke-width="2.3"/>
<line x1="409.7" y1="289.0" x2="396.9" y2="289.0" stroke="#10a0d8" stroke-width="2.3"/>
<line x1="396.9" y1="289.0" x2="393.6" y2="275.1" stroke="#10a0d8" stroke-width="2.3"/>
<line x1="393.6" y1="275.1" x2="397.5" y2="260.0" stroke="#10a0d8" stroke-width="2.3"/>
<line x1="363.5" y1="288.0" x2="372.2" y2="301.9" stroke="#10a0d8" stroke-width="2.3"/>
<line x1="396.9" y1="289.0" x2="387.6" y2="302.6" stroke="#10a0d8" stroke-width="2.3"/>
<line x1="364.1" y1="241.8" x2="364.1" y2="232.9" stroke="#12a2da" stroke-width="1.9"/>
<line x1="364.1" y1="232.9" x2="364.1" y2="223.9" stroke="#e07b76" stroke-width="1.9"/>
<line x1="358.9" y1="246.4" x2="358.2" y2="241.8" stroke="#12a2da" stroke-width="1.9"/>
<line x1="358.2" y1="241.8" x2="357.5" y2="237.1" stroke="#e07b76" stroke-width="1.9"/>
<line x1="365.5" y1="260.2" x2="368.8" y2="259.2" stroke="#12a2da" stroke-width="1.9"/>
<line x1="368.8" y1="259.2" x2="372.1" y2="258.3" stroke="#e07b76" stroke-width="1.9"/>
<line x1="356.2" y1="262.9" x2="354.9" y2="259.2" stroke="#12a2da" stroke-width="1.9"/>
<line x1="354.9" y1="259.2" x2="353.6" y2="255.6" stroke="#e07b76" stroke-width="1.9"/>
<line x1="363.5" y1="288.0" x2="366.1" y2="289.9" stroke="#12a2da" stroke-width="1.9"/>
<line x1="366.1" y1="289.9" x2="368.8" y2="291.9" stroke="#e07b76" stroke-width="1.9"/>
<line x1="358.2" y1="286.6" x2="358.5" y2="289.9" stroke="#12a2da" stroke-width="1.9"/>
<line x1="358.5" y1="289.9" x2="358.9" y2="293.2" stroke="#e07b76" stroke-width="1.9"/>
<line x1="366.8" y1="313.7" x2="362.0" y2="313.5" stroke="#12a2da" stroke-width="1.9"/>
<line x1="362.0" y1="313.5" x2="357.2" y2="313.3" stroke="#e07b76" stroke-width="1.9"/>
<line x1="395.8" y1="316.9" x2="402.0" y2="318.3" stroke="#12a2da" stroke-width="1.9"/>
<line x1="402.0" y1="318.3" x2="408.2" y2="319.7" stroke="#e07b76" stroke-width="1.9"/>
<line x1="373.3" y1="327.7" x2="371.1" y2="331.4" stroke="#12a2da" stroke-width="1.9"/>
<line x1="371.1" y1="331.4" x2="369.0" y2="335.2" stroke="#e07b76" stroke-width="1.9"/>
<line x1="388.3" y1="329.8" x2="391.5" y2="335.1" stroke="#12a2da" stroke-width="1.9"/>
<line x1="391.5" y1="335.1" x2="394.7" y2="340.5" stroke="#e07b76" stroke-width="1.9"/>
<line x1="392.6" y1="249.3" x2="394.2" y2="243.4" stroke="#12a2da" stroke-width="1.9"/>
<line x1="394.2" y1="243.4" x2="395.8" y2="237.5" stroke="#e07b76" stroke-width="1.9"/>
<line x1="409.7" y1="256.8" x2="411.9" y2="249.3" stroke="#12a2da" stroke-width="1.9"/>
<line x1="411.9" y1="249.3" x2="414.0" y2="241.8" stroke="#e07b76" stroke-width="1.9"/>
<line x1="419.4" y1="272.9" x2="426.4" y2="272.4" stroke="#12a2da" stroke-width="1.9"/>
<line x1="426.4" y1="272.4" x2="433.3" y2="271.9" stroke="#e07b76" stroke-width="1.9"/>
<line x1="409.7" y1="289.0" x2="412.4" y2="296.6" stroke="#12a2da" stroke-width="1.9"/>
<line x1="412.4" y1="296.6" x2="415.1" y2="304.1" stroke="#e07b76" stroke-width="1.9"/>
<line x1="386.1" y1="253.6" x2="385.1" y2="250.4" stroke="#12a2da" stroke-width="1.9"/>
<line x1="385.1" y1="250.4" x2="384.0" y2="247.2" stroke="#e07b76" stroke-width="1.9"/>
<circle cx="364.1" cy="223.9" r="4.0" fill="url(#sp)"/>
<circle cx="357.5" cy="237.1" r="3.0" fill="url(#sp)"/>
<circle cx="353.6" cy="255.6" r="2.5" fill="url(#sp)"/>
<circle cx="358.9" cy="293.2" r="2.5" fill="url(#sp)"/>
<circle cx="358.9" cy="246.4" r="4.5" fill="url(#sc)"/>
<circle cx="356.2" cy="262.9" r="4.5" fill="url(#sc)"/>
<circle cx="354.9" cy="274.8" r="4.5" fill="url(#sc)"/>
<circle cx="358.2" cy="286.6" r="4.5" fill="url(#sc)"/>
<circle cx="364.1" cy="241.8" r="6.0" fill="url(#sc)"/>
<circle cx="365.5" cy="260.2" r="5.5" fill="url(#sc)"/>
<circle cx="364.1" cy="276.1" r="5.5" fill="url(#sc)"/>
<circle cx="363.5" cy="288.0" r="4.6" fill="url(#sc)"/>
<circle cx="372.1" cy="258.3" r="4.5" fill="url(#sp)"/>
<circle cx="368.8" cy="291.9" r="4.0" fill="url(#sp)"/>
<circle cx="372.2" cy="301.9" r="4.8" fill="url(#sc)"/>
<circle cx="387.6" cy="302.6" r="4.6" fill="url(#sc)"/>
<circle cx="395.8" cy="316.9" r="4.6" fill="url(#sc)"/>
<circle cx="388.3" cy="329.8" r="4.8" fill="url(#sc)"/>
<circle cx="373.3" cy="327.7" r="5.0" fill="url(#sc)"/>
<circle cx="366.8" cy="313.7" r="4.9" fill="url(#sc)"/>
<circle cx="357.2" cy="313.3" r="2.9" fill="url(#sp)"/>
<circle cx="408.2" cy="319.7" r="3.0" fill="url(#sp)"/>
<circle cx="369.0" cy="335.2" r="2.9" fill="url(#sp)"/>
<circle cx="394.7" cy="340.5" r="3.0" fill="url(#sp)"/>
<circle cx="392.6" cy="249.3" r="4.6" fill="url(#sc)"/>
<circle cx="386.1" cy="253.6" r="4.2" fill="url(#sc)"/>
<circle cx="385.0" cy="265.4" r="4.0" fill="url(#sc)"/>
<circle cx="386.1" cy="276.2" r="4.0" fill="url(#sc)"/>
<circle cx="395.8" cy="237.5" r="3.0" fill="url(#sp)"/>
<circle cx="384.0" cy="247.2" r="2.2" fill="url(#sp)"/>
<circle cx="397.5" cy="260.0" r="5.0" fill="url(#sc)"/>
<circle cx="409.7" cy="256.8" r="5.5" fill="url(#sc)"/>
<circle cx="419.4" cy="272.9" r="6.5" fill="url(#sc)"/>
<circle cx="409.7" cy="289.0" r="5.6" fill="url(#sc)"/>
<circle cx="396.9" cy="289.0" r="5.0" fill="url(#sc)"/>
<circle cx="393.6" cy="275.1" r="4.6" fill="url(#sc)"/>
<circle cx="414.0" cy="241.8" r="3.6" fill="url(#sp)"/>
<circle cx="433.3" cy="271.9" r="4.0" fill="url(#sp)"/>
<circle cx="415.1" cy="304.1" r="3.6" fill="url(#sp)"/>
<polygon points="510.0,303.2 522.9,303.2 528.2,316.0 521.8,330.0 508.9,332.1 501.4,317.1" fill="#0fa6dd" stroke="#0fa6dd" stroke-width="2.5" stroke-linejoin="round"/>
<polygon points="493.1,256.4 496.6,257.8 497.6,265.4 498.6,268.9 501.4,287.6 498.0,282.8 495.2,269.6 495.2,262.0" fill="#0fa6dd" stroke="#0fa6dd" stroke-width="2.5" stroke-linejoin="round"/>
<polygon points="535.4,246.1 539.6,259.4 537.5,265.7 536.8,276.3 528.3,289.6 529.0,278.4 529.0,267.1 529.7,251.7" fill="#0fa6dd" stroke="#0fa6dd" stroke-width="2.5" stroke-linejoin="round"/>
<line x1="510.0" y1="303.2" x2="522.9" y2="303.2" stroke="#10a0d8" stroke-width="2.3"/>
<line x1="522.9" y1="303.2" x2="528.2" y2="316.0" stroke="#10a0d8" stroke-width="2.3"/>
<line x1="528.2" y1="316.0" x2="521.8" y2="330.0" stroke="#10a0d8" stroke-width="2.3"/>
<line x1="521.8" y1="330.0" x2="508.9" y2="332.1" stroke="#10a0d8" stroke-width="2.3"/>
<line x1="508.9" y1="332.1" x2="501.4" y2="317.1" stroke="#10a0d8" stroke-width="2.3"/>
<line x1="501.4" y1="317.1" x2="510.0" y2="303.2" stroke="#10a0d8" stroke-width="2.3"/>
<line x1="493.1" y1="256.4" x2="496.6" y2="257.8" stroke="#10a0d8" stroke-width="2.3"/>
<line x1="496.6" y1="257.8" x2="497.6" y2="265.4" stroke="#10a0d8" stroke-width="2.3"/>
<line x1="497.6" y1="265.4" x2="498.6" y2="268.9" stroke="#10a0d8" stroke-width="2.3"/>
<line x1="498.6" y1="268.9" x2="501.4" y2="287.6" stroke="#10a0d8" stroke-width="2.3"/>
<line x1="501.4" y1="287.6" x2="498.0" y2="282.8" stroke="#10a0d8" stroke-width="2.3"/>
<line x1="498.0" y1="282.8" x2="495.2" y2="269.6" stroke="#10a0d8" stroke-width="2.3"/>
<line x1="495.2" y1="269.6" x2="495.2" y2="262.0" stroke="#10a0d8" stroke-width="2.3"/>
<line x1="495.2" y1="262.0" x2="493.1" y2="256.4" stroke="#10a0d8" stroke-width="2.3"/>
<line x1="535.4" y1="246.1" x2="539.6" y2="259.4" stroke="#10a0d8" stroke-width="2.3"/>
<line x1="539.6" y1="259.4" x2="537.5" y2="265.7" stroke="#10a0d8" stroke-width="2.3"/>
<line x1="537.5" y1="265.7" x2="536.8" y2="276.3" stroke="#10a0d8" stroke-width="2.3"/>
<line x1="536.8" y1="276.3" x2="528.3" y2="289.6" stroke="#10a0d8" stroke-width="2.3"/>
<line x1="528.3" y1="289.6" x2="529.0" y2="278.4" stroke="#10a0d8" stroke-width="2.3"/>
<line x1="529.0" y1="278.4" x2="529.0" y2="267.1" stroke="#10a0d8" stroke-width="2.3"/>
<line x1="529.0" y1="267.1" x2="529.7" y2="251.7" stroke="#10a0d8" stroke-width="2.3"/>
<line x1="529.7" y1="251.7" x2="535.4" y2="246.1" stroke="#10a0d8" stroke-width="2.3"/>
<line x1="500.0" y1="278.6" x2="501.4" y2="287.6" stroke="#10a0d8" stroke-width="2.3"/>
<line x1="501.4" y1="287.6" x2="510.0" y2="303.2" stroke="#10a0d8" stroke-width="2.3"/>
<line x1="501.4" y1="287.6" x2="497.2" y2="300.8" stroke="#10a0d8" stroke-width="2.3"/>
<line x1="522.9" y1="303.2" x2="528.3" y2="289.6" stroke="#10a0d8" stroke-width="2.3"/>
<line x1="536.8" y1="276.3" x2="544.5" y2="292.4" stroke="#10a0d8" stroke-width="2.3"/>
<line x1="544.5" y1="292.4" x2="550.8" y2="291.0" stroke="#12a2da" stroke-width="1.9"/>
<line x1="550.8" y1="291.0" x2="557.1" y2="289.6" stroke="#e07b76" stroke-width="1.9"/>
<line x1="544.5" y1="292.4" x2="547.3" y2="296.2" stroke="#12a2da" stroke-width="1.9"/>
<line x1="547.3" y1="296.2" x2="550.1" y2="300.1" stroke="#e07b76" stroke-width="1.9"/>
<line x1="544.5" y1="292.4" x2="538.9" y2="296.9" stroke="#12a2da" stroke-width="1.9"/>
<line x1="538.9" y1="296.9" x2="533.3" y2="301.5" stroke="#e07b76" stroke-width="1.9"/>
<line x1="493.1" y1="256.4" x2="493.1" y2="252.9" stroke="#12a2da" stroke-width="1.9"/>
<line x1="493.1" y1="252.9" x2="493.1" y2="249.5" stroke="#e07b76" stroke-width="1.9"/>
<line x1="491.7" y1="243.9" x2="492.4" y2="246.7" stroke="#e07b76" stroke-width="1.9"/>
<line x1="492.4" y1="246.7" x2="493.1" y2="249.5" stroke="#e07b76" stroke-width="1.9"/>
<line x1="501.4" y1="287.6" x2="502.4" y2="287.0" stroke="#12a2da" stroke-width="1.9"/>
<line x1="502.4" y1="287.0" x2="503.5" y2="286.4" stroke="#e07b76" stroke-width="1.9"/>
<line x1="497.2" y1="300.8" x2="495.5" y2="302.1" stroke="#12a2da" stroke-width="1.9"/>
<line x1="495.5" y1="302.1" x2="493.8" y2="303.5" stroke="#e07b76" stroke-width="1.9"/>
<line x1="497.2" y1="300.8" x2="495.1" y2="304.2" stroke="#12a2da" stroke-width="1.9"/>
<line x1="495.1" y1="304.2" x2="493.1" y2="307.7" stroke="#e07b76" stroke-width="1.9"/>
<line x1="535.4" y1="246.1" x2="535.4" y2="238.7" stroke="#12a2da" stroke-width="1.9"/>
<line x1="535.4" y1="238.7" x2="535.4" y2="231.3" stroke="#e07b76" stroke-width="1.9"/>
<line x1="529.7" y1="251.7" x2="528.7" y2="247.8" stroke="#12a2da" stroke-width="1.9"/>
<line x1="528.7" y1="247.8" x2="527.6" y2="244.0" stroke="#e07b76" stroke-width="1.9"/>
<line x1="539.6" y1="259.4" x2="542.8" y2="257.3" stroke="#12a2da" stroke-width="1.9"/>
<line x1="542.8" y1="257.3" x2="545.9" y2="255.2" stroke="#e07b76" stroke-width="1.9"/>
<line x1="529.0" y1="267.1" x2="528.0" y2="264.0" stroke="#12a2da" stroke-width="1.9"/>
<line x1="528.0" y1="264.0" x2="526.9" y2="260.8" stroke="#e07b76" stroke-width="1.9"/>
<line x1="501.4" y1="317.1" x2="495.5" y2="317.6" stroke="#12a2da" stroke-width="1.9"/>
<line x1="495.5" y1="317.6" x2="489.6" y2="318.2" stroke="#e07b76" stroke-width="1.9"/>
<line x1="528.2" y1="316.0" x2="532.2" y2="316.0" stroke="#12a2da" stroke-width="1.9"/>
<line x1="532.2" y1="316.0" x2="536.1" y2="316.0" stroke="#e07b76" stroke-width="1.9"/>
<line x1="508.9" y1="332.1" x2="505.7" y2="339.1" stroke="#12a2da" stroke-width="1.9"/>
<line x1="505.7" y1="339.1" x2="502.5" y2="346.1" stroke="#e07b76" stroke-width="1.9"/>
<line x1="521.8" y1="330.0" x2="524.0" y2="335.4" stroke="#12a2da" stroke-width="1.9"/>
<line x1="524.0" y1="335.4" x2="526.1" y2="340.7" stroke="#e07b76" stroke-width="1.9"/>
<circle cx="491.7" cy="243.9" r="3.0" fill="url(#sp)"/>
<circle cx="493.1" cy="249.5" r="3.5" fill="url(#sp)"/>
<circle cx="493.1" cy="256.4" r="4.6" fill="url(#sc)"/>
<circle cx="496.6" cy="257.8" r="4.2" fill="url(#sc)"/>
<circle cx="495.2" cy="262.0" r="5.0" fill="url(#sc)"/>
<circle cx="497.6" cy="265.4" r="4.0" fill="url(#sc)"/>
<circle cx="495.2" cy="269.6" r="4.3" fill="url(#sc)"/>
<circle cx="498.6" cy="268.9" r="4.0" fill="url(#sc)"/>
<circle cx="500.0" cy="278.6" r="6.0" fill="url(#sc)"/>
<circle cx="498.0" cy="282.8" r="5.0" fill="url(#sc)"/>
<circle cx="501.4" cy="287.6" r="5.4" fill="url(#sc)"/>
<circle cx="497.2" cy="300.8" r="4.4" fill="url(#sc)"/>
<circle cx="503.5" cy="286.4" r="3.9" fill="url(#sp)"/>
<circle cx="493.8" cy="303.5" r="2.5" fill="url(#sp)"/>
<circle cx="493.1" cy="307.7" r="3.0" fill="url(#sp)"/>
<circle cx="535.4" cy="231.3" r="3.5" fill="url(#sp)"/>
<circle cx="527.6" cy="244.0" r="2.5" fill="url(#sp)"/>
<circle cx="526.9" cy="260.8" r="2.0" fill="url(#sp)"/>
<circle cx="535.4" cy="246.1" r="5.5" fill="url(#sc)"/>
<circle cx="529.7" cy="251.7" r="5.0" fill="url(#sc)"/>
<circle cx="529.0" cy="267.1" r="5.0" fill="url(#sc)"/>
<circle cx="537.5" cy="265.7" r="4.5" fill="url(#sc)"/>
<circle cx="539.6" cy="259.4" r="5.5" fill="url(#sc)"/>
<circle cx="545.9" cy="255.2" r="4.0" fill="url(#sp)"/>
<circle cx="529.0" cy="278.4" r="5.0" fill="url(#sc)"/>
<circle cx="536.8" cy="276.3" r="5.5" fill="url(#sc)"/>
<circle cx="528.3" cy="289.6" r="4.6" fill="url(#sc)"/>
<circle cx="544.5" cy="292.4" r="6.0" fill="url(#sc)"/>
<circle cx="557.1" cy="289.6" r="3.8" fill="url(#sp)"/>
<circle cx="550.1" cy="300.1" r="3.0" fill="url(#sp)"/>
<circle cx="533.3" cy="301.5" r="3.0" fill="url(#sp)"/>
<circle cx="527.6" cy="297.3" r="2.0" fill="url(#sp)"/>
<circle cx="510.0" cy="303.2" r="4.7" fill="url(#sc)"/>
<circle cx="522.9" cy="303.2" r="4.5" fill="url(#sc)"/>
<circle cx="528.2" cy="316.0" r="4.5" fill="url(#sc)"/>
<circle cx="521.8" cy="330.0" r="4.7" fill="url(#sc)"/>
<circle cx="508.9" cy="332.1" r="4.9" fill="url(#sc)"/>
<circle cx="501.4" cy="317.1" r="5.3" fill="url(#sc)"/>
<circle cx="489.6" cy="318.2" r="3.0" fill="url(#sp)"/>
<circle cx="536.1" cy="316.0" r="2.6" fill="url(#sp)"/>
<circle cx="502.5" cy="346.1" r="3.0" fill="url(#sp)"/>
<circle cx="526.1" cy="340.7" r="2.7" fill="url(#sp)"/>
<line x1="179.8" y1="232.5" x2="179.8" y2="351.5" stroke="#8a8a8a" stroke-width="1" stroke-dasharray="1.2,1.4"/>
<line x1="453.6" y1="232.5" x2="453.6" y2="351.5" stroke="#8a8a8a" stroke-width="1" stroke-dasharray="1.2,1.4"/>
<circle cx="251.3" cy="273.8" r="9.4" fill="none" stroke="#e01818" stroke-width="1.8" stroke-dasharray="1.5,1.6"/>
<circle cx="378.7" cy="276.2" r="9.4" fill="none" stroke="#e01818" stroke-width="1.8" stroke-dasharray="1.5,1.6"/>
<ellipse cx="517.5" cy="280.7" rx="7.6" ry="9.6" fill="none" stroke="#e01818" stroke-width="1.7" stroke-dasharray="1.5,1.6"/>
<path d="M250.2,277.5 L251.5,269.5 L252.8,277.5 L254.5,278.5 L251.8,276.5 Z" fill="#0a6a1a"/>
<path d="M250.6,270 L251.6,269.5 L251.4,277 L250.5,277 Z" fill="#1a8a2a"/>
<path d="M377.8,281 L378.8,272.5 L379.6,281 Z" fill="#1a8a2a"/>
<path d="M516.2,284 L517.2,279 L518,284 Z" fill="#1a7a2a"/><path d="M517.6,277.5 L518.4,275.5 L518.8,277.5 Z" fill="#1a7a2a"/>
<path d="M300.8,280 L328.8,280 L327.1,274.1 L340.3,282.2 L300.8,282.2 Z" fill="#000"/>
<path d="M339.9,285.4 L339.9,287.6 L312,287.6 L313.6,293.5 L300.2,285.4 Z" fill="#000"/>
<text x="114.6" y="375.8" font-size="12.5" text-anchor="middle" fill="#000" textLength="35.4" lengthAdjust="spacingAndGlyphs">22-NB</text>
<text x="250" y="375.8" font-size="12.5" text-anchor="middle" textLength="59" lengthAdjust="spacingAndGlyphs">11-NB-<tspan font-style="italic">syn</tspan></text>
<text x="382.6" y="375.8" font-size="12.5" text-anchor="middle" textLength="61.5" lengthAdjust="spacingAndGlyphs">11-NB-<tspan font-style="italic">anti</tspan></text>
<text x="518.6" y="375.8" font-size="12.5" text-anchor="middle" textLength="103.5" lengthAdjust="spacingAndGlyphs">11-NB-8DMe-<tspan font-style="italic">anti</tspan></text>
<rect x="587.8" y="226.4" width="16.7" height="151.2" fill="url(#vdw)"/>
<text x="610.6" y="237.8" font-size="11" font-weight="bold" fill="#1a1aff" textLength="48" lengthAdjust="spacingAndGlyphs">Attraction</text>
<text x="642.5" y="297.3" font-size="11.5" text-anchor="middle" font-weight="bold" fill="#111" textLength="69.2" lengthAdjust="spacingAndGlyphs">Van der Waals</text>
<text x="642.5" y="310.8" font-size="11.5" text-anchor="middle" font-weight="bold" fill="#111" textLength="52.2" lengthAdjust="spacingAndGlyphs">interaction</text>
<text x="610.2" y="373.0" font-size="11" font-weight="bold" fill="#ff1a1a" textLength="46.8" lengthAdjust="spacingAndGlyphs">Repulsion</text>
<text x="0.6" y="407.6" font-size="14.5" font-weight="bold" fill="#000">e</text>
<polygon points="60.30,411.40 51.80,426.12 34.80,426.12 26.30,411.40 34.80,396.68 51.80,396.68" fill="#9a9a9a" stroke="#3a3a3a" stroke-width="1" stroke-linejoin="round"/>
<line x1="30.42" y1="409.86" x2="35.52" y2="401.02" stroke="#333" stroke-width="1"/>
<line x1="51.08" y1="401.02" x2="56.18" y2="409.86" stroke="#333" stroke-width="1"/>
<line x1="48.40" y1="423.32" x2="38.20" y2="423.32" stroke="#333" stroke-width="1"/>
<polygon points="41.42,462.80 28.60,470.20 15.78,462.80 15.78,448.00 28.60,440.60 41.42,448.00" fill="#d77272" stroke="#222" stroke-width="1.1" stroke-linejoin="round"/>
<polygon points="67.05,462.80 54.23,470.20 41.42,462.80 41.42,448.00 54.23,440.60 67.05,448.00" fill="#d77272" stroke="#222" stroke-width="1.1" stroke-linejoin="round"/>
<line x1="18.38" y1="459.84" x2="18.38" y2="450.96" stroke="#1a1a1a" stroke-width="1.15"/>
<line x1="29.86" y1="444.33" x2="37.55" y2="448.77" stroke="#1a1a1a" stroke-width="1.15"/>
<line x1="37.55" y1="462.03" x2="29.86" y2="466.47" stroke="#1a1a1a" stroke-width="1.15"/>
<line x1="55.50" y1="444.33" x2="63.19" y2="448.77" stroke="#1a1a1a" stroke-width="1.15"/>
<line x1="63.19" y1="462.03" x2="55.50" y2="466.47" stroke="#1a1a1a" stroke-width="1.15"/>
<path d="M15.78,448.00 L14.85,445.90 L11.91,447.48 L11.65,444.15 L8.71,445.73 L8.45,442.40 L5.51,443.98 L5.25,440.65 L2.98,441.00" fill="none" stroke="#333" stroke-width="0.9" stroke-linejoin="round"/>
<polygon points="42.92,515.40 30.10,522.80 17.28,515.40 17.28,500.60 30.10,493.20 42.92,500.60" fill="#0a9ae6" stroke="#222" stroke-width="1.1" stroke-linejoin="round"/>
<polygon points="68.55,515.40 55.73,522.80 42.92,515.40 42.92,500.60 55.73,493.20 68.55,500.60" fill="#0a9ae6" stroke="#222" stroke-width="1.1" stroke-linejoin="round"/>
<line x1="19.88" y1="512.44" x2="19.88" y2="503.56" stroke="#1a1a1a" stroke-width="1.15"/>
<line x1="31.36" y1="496.93" x2="39.05" y2="501.37" stroke="#1a1a1a" stroke-width="1.15"/>
<line x1="39.05" y1="514.63" x2="31.36" y2="519.07" stroke="#1a1a1a" stroke-width="1.15"/>
<line x1="57.00" y1="496.93" x2="64.69" y2="501.37" stroke="#1a1a1a" stroke-width="1.15"/>
<line x1="64.69" y1="514.63" x2="57.00" y2="519.07" stroke="#1a1a1a" stroke-width="1.15"/>
<path d="M30.10,493.20 L31.47,491.32 L28.35,489.76 L31.22,487.77 L28.10,486.21 L30.97,484.22 L27.85,482.66 L30.72,480.67 L29.10,479.00" fill="none" stroke="#333" stroke-width="0.9" stroke-linejoin="round"/>
<line x1="81.3" y1="409.9" x2="87" y2="409.9" stroke="#222" stroke-width="0.9"/>
<line x1="81.3" y1="412.2" x2="87" y2="412.2" stroke="#222" stroke-width="0.9"/>
<line x1="81.3" y1="414.5" x2="87" y2="414.5" stroke="#222" stroke-width="0.9"/>
<line x1="81.3" y1="454.3" x2="87" y2="454.3" stroke="#222" stroke-width="0.9"/>
<line x1="81.3" y1="456.6" x2="87" y2="456.6" stroke="#222" stroke-width="0.9"/>
<line x1="81.3" y1="458.9" x2="87" y2="458.9" stroke="#222" stroke-width="0.9"/>
<line x1="81.3" y1="505.7" x2="87" y2="505.7" stroke="#222" stroke-width="0.9"/>
<line x1="81.3" y1="508.0" x2="87" y2="508.0" stroke="#222" stroke-width="0.9"/>
<line x1="81.3" y1="510.3" x2="87" y2="510.3" stroke="#222" stroke-width="0.9"/>
<line x1="81.3" y1="543.6" x2="87" y2="543.6" stroke="#222" stroke-width="0.9"/>
<line x1="81.3" y1="545.9" x2="87" y2="545.9" stroke="#222" stroke-width="0.9"/>
<line x1="81.3" y1="548.2" x2="87" y2="548.2" stroke="#222" stroke-width="0.9"/>
<line x1="81.3" y1="583.3" x2="87" y2="583.3" stroke="#222" stroke-width="0.9"/>
<line x1="81.3" y1="585.6" x2="87" y2="585.6" stroke="#222" stroke-width="0.9"/>
<line x1="81.3" y1="587.9" x2="87" y2="587.9" stroke="#222" stroke-width="0.9"/>
<rect x="111.3" y="406.3" width="43.4" height="10" fill="#a9a6a6" stroke="#7c7c7c" stroke-width="1.1"/>
<circle cx="122.4" cy="411.3" r="3.7" fill="#676767"/><circle cx="144.2" cy="411.3" r="3.7" fill="#676767"/>
<rect x="105.1" y="450.6" width="56.3" height="9.5" fill="#d87272" stroke="#c4343a" stroke-width="1.2"/>
<circle cx="133.1" cy="455.4" r="3.7" fill="#874a52"/>
<rect x="100.2" y="502.3" width="65.8" height="10.2" fill="#0a9be6" stroke="#186ea6" stroke-width="1.1"/>
<line x1="133" y1="502.3" x2="133" y2="512.5" stroke="#186ea6" stroke-width="0.9"/>
<circle cx="149.5" cy="507.5" r="3.6" fill="#1a4868"/>
<text x="43.4" y="550.0" font-size="12.5" text-anchor="middle" fill="#000" textLength="17.2" lengthAdjust="spacingAndGlyphs">Me</text>
<line x1="133" y1="546" x2="133" y2="557.8" stroke="#2e8ad0" stroke-width="1.5"/>
<circle cx="133" cy="539.9" r="7.3" fill="#f07828"/>
<text x="43.2" y="589.2" font-size="12.5" text-anchor="middle" fill="#000" textLength="19.2" lengthAdjust="spacingAndGlyphs">TSC</text>
<rect x="107.5" y="572.5" width="51" height="26" rx="12" fill="#4a4af6" filter="url(#blur1)"/>
<rect x="-5.4" y="-31.0" width="10.8" height="62" fill="rgba(214,110,110,0.38)" stroke="rgba(200,60,60,0.45)" stroke-width="1" opacity="1" transform="translate(229.00,465.50) rotate(45)"/>
<rect x="-5.4" y="-31.0" width="10.8" height="62" fill="rgba(214,110,110,0.38)" stroke="rgba(200,60,60,0.45)" stroke-width="1" opacity="1" transform="translate(229.00,465.50) rotate(90)"/>
<rect x="-5.4" y="-31.0" width="10.8" height="62" fill="rgba(214,110,110,0.38)" stroke="rgba(200,60,60,0.45)" stroke-width="1" opacity="1" transform="translate(229.00,465.50) rotate(135)"/>
<rect x="-5.4" y="-31.0" width="10.8" height="62" fill="rgba(214,110,110,0.38)" stroke="rgba(200,60,60,0.45)" stroke-width="1" opacity="1" transform="translate(253.40,465.50) rotate(45)"/>
<rect x="-5.4" y="-31.0" width="10.8" height="62" fill="rgba(214,110,110,0.38)" stroke="rgba(200,60,60,0.45)" stroke-width="1" opacity="1" transform="translate(253.40,465.50) rotate(90)"/>
<rect x="-5.4" y="-31.0" width="10.8" height="62" fill="rgba(214,110,110,0.38)" stroke="rgba(200,60,60,0.45)" stroke-width="1" opacity="1" transform="translate(253.40,465.50) rotate(135)"/>
<rect x="-5.45" y="-31.15" width="10.9" height="62.3" fill="#d77474" stroke="#c4363c" stroke-width="1.1" opacity="1" transform="translate(229.00,465.50) rotate(0)"/>
<rect x="-5.45" y="-31.15" width="10.9" height="62.3" fill="#d77474" stroke="#c4363c" stroke-width="1.1" opacity="1" transform="translate(253.40,465.50) rotate(0)"/>
<circle cx="229.0" cy="465.5" r="3.9" fill="#7a4a4e"/>
<path d="M225.40,456.20 A10.0,10.0 0 1 0 232.60,456.20" fill="none" stroke="#c1252b" stroke-width="2.5"/>
<polygon points="217.80,455.70 227.10,455.30 225.00,461.70" fill="#c1252b"/>
<polygon points="240.20,455.70 230.90,455.30 233.00,461.70" fill="#c1252b"/>
<circle cx="253.4" cy="465.5" r="3.9" fill="#7a4a4e"/>
<path d="M249.80,456.20 A10.0,10.0 0 1 0 257.00,456.20" fill="none" stroke="#c1252b" stroke-width="2.5"/>
<polygon points="242.20,455.70 251.50,455.30 249.40,461.70" fill="#c1252b"/>
<polygon points="264.60,455.70 255.30,455.30 257.40,461.70" fill="#c1252b"/>
<text x="241.4" y="549.6" font-size="12.5" text-anchor="middle" fill="#000" textLength="35.4" lengthAdjust="spacingAndGlyphs">22-NB</text>
<text x="241.2" y="576.5" font-size="12.5" text-anchor="middle" font-weight="bold" fill="#f00808" textLength="45.5" lengthAdjust="spacingAndGlyphs">Flexible</text>
<text x="241.2" y="593.0" font-size="12.5" text-anchor="middle" font-weight="bold" fill="#f00808" textLength="78" lengthAdjust="spacingAndGlyphs">Unstable TSC</text>
<rect x="304.6" y="400.9" width="244.6" height="155.9" fill="none" stroke="#c8c8c8" stroke-width="1.3"/>
<g transform="rotate(-17 335.9 477)"><rect x="330.15" y="426.50" width="11.5" height="80" fill="#aee0f8" stroke="#6cc0ec" stroke-width="0.9" opacity="0.8"/></g>
<g transform="rotate(17 335.9 477)"><rect x="330.15" y="426.50" width="11.5" height="80" fill="#aee0f8" stroke="#6cc0ec" stroke-width="0.9" opacity="0.8"/></g>
<g transform="rotate(-17 361.9 477)"><rect x="356.15" y="426.50" width="11.5" height="80" fill="#aee0f8" stroke="#6cc0ec" stroke-width="0.9" opacity="0.8"/></g>
<g transform="rotate(17 361.9 477)"><rect x="356.15" y="426.50" width="11.5" height="80" fill="#aee0f8" stroke="#6cc0ec" stroke-width="0.9" opacity="0.8"/></g>
<rect x="340" y="452" width="18" height="56" rx="5" fill="#a194ff" opacity="0.9" filter="url(#blur1)"/>
<rect x="324.6" y="479.1" width="48.3" height="10.4" fill="#a7a3a3" stroke="#6e6e6e" stroke-width="1"/>
<rect x="341.5" y="479.6" width="14.8" height="9.5" fill="#7866d0" opacity="0.8"/>
<rect x="330.15" y="424.1" width="11.5" height="83.6" fill="url(#blueBar)" stroke="#0c72c0" stroke-width="0.9"/>
<rect x="330.15" y="458" width="11.5" height="49.7" fill="#2a40ff" opacity="0.35"/>
<circle cx="335.9" cy="484.8" r="3.8" fill="#1b4c90"/>
<rect x="356.15" y="424.1" width="11.5" height="83.6" fill="url(#blueBar)" stroke="#0c72c0" stroke-width="0.9"/>
<rect x="356.15" y="458" width="11.5" height="49.7" fill="#2a40ff" opacity="0.35"/>
<circle cx="361.9" cy="484.8" r="3.8" fill="#1b4c90"/>
<path d="M326.23,459.78 A12.2,12.2 0 0 1 344.97,459.78" fill="none" stroke="#1565a6" stroke-width="2.8"/>
<polygon points="324.29,463.03 323.96,457.88 328.51,461.68" fill="#1565a6"/>
<polygon points="346.91,463.03 347.24,457.88 342.69,461.68" fill="#1565a6"/>
<path d="M352.23,459.78 A12.2,12.2 0 0 1 370.97,459.78" fill="none" stroke="#1565a6" stroke-width="2.8"/>
<polygon points="350.29,463.03 349.96,457.88 354.51,461.68" fill="#1565a6"/>
<polygon points="372.91,463.03 373.24,457.88 368.69,461.68" fill="#1565a6"/>
<path d="M394.9,463.7 L444.9,463.7 L439.6,457.9 L461.2,465.9 L394.9,465.9 Z" fill="#000"/>
<path d="M460.7,469.3 L460.7,471.5 L411.5,471.5 L416.9,477.8 L394.9,469.3 Z" fill="#000"/>
<g transform="rotate(-12 493.9 475.9)"><rect x="488.15" y="404.70" width="11.5" height="83.19999999999999" fill="#aee0f8" stroke="#6cc0ec" stroke-width="0.9" opacity="0.8"/></g>
<g transform="rotate(-12 518.95 454.9)"><rect x="513.20" y="442.90" width="11.5" height="83.5" fill="#aee0f8" stroke="#6cc0ec" stroke-width="0.9" opacity="0.8"/></g>
<g transform="rotate(12 493.9 475.9)"><rect x="488.15" y="404.70" width="11.5" height="83.19999999999999" fill="#aee0f8" stroke="#6cc0ec" stroke-width="0.9" opacity="0.8"/></g>
<g transform="rotate(12 518.95 454.9)"><rect x="513.20" y="442.90" width="11.5" height="83.5" fill="#aee0f8" stroke="#6cc0ec" stroke-width="0.9" opacity="0.8"/></g>
<rect x="482.5" y="460.5" width="48.1" height="10.9" fill="#a7a3a3" stroke="#6e6e6e" stroke-width="1"/>
<rect x="488.20" y="404.7" width="11.4" height="83.2" fill="url(#blueBar)" stroke="#0c72c0" stroke-width="0.9"/>
<rect x="513.25" y="442.9" width="11.4" height="83.5" fill="url(#blueBar)" stroke="#0c72c0" stroke-width="0.9"/>
<g filter="url(#blur3)" opacity="0.8"><ellipse cx="506" cy="466" rx="28" ry="12" fill="#7a6cff" transform="rotate(38 506 466)"/><rect x="488" y="446" width="12" height="40" fill="#2a4cff"/><rect x="513" y="450" width="12" height="38" fill="#2a4cff"/></g>
<circle cx="493.9" cy="465.4" r="3.8" fill="#1b3ca0"/><circle cx="518.95" cy="465.4" r="3.8" fill="#1b3ca0"/>
<path d="M484.98,440.76 A13,13 0 0 1 502.42,440.76" fill="none" stroke="#1565a6" stroke-width="2.9"/>
<polygon points="482.68,443.51 483.10,438.68 486.86,442.84" fill="#1565a6"/>
<polygon points="504.72,443.51 504.30,438.68 500.54,442.84" fill="#1565a6"/>
<path d="M510.87,488.63 A13,13 0 0 0 526.93,488.63" fill="none" stroke="#1565a6" stroke-width="2.9"/>
<polygon points="508.38,486.04 509.14,490.83 512.61,486.42" fill="#1565a6"/>
<polygon points="529.42,486.04 528.66,490.83 525.19,486.42" fill="#1565a6"/>
<text x="346.7" y="549.0" font-size="12.5" text-anchor="middle" textLength="59" lengthAdjust="spacingAndGlyphs">11-NB-<tspan font-style="italic">syn</tspan></text>
<text x="507.2" y="549.0" font-size="12.5" text-anchor="middle" textLength="63.3" lengthAdjust="spacingAndGlyphs">11-NB-<tspan font-style="italic">anti</tspan></text>
<text x="430" y="593.5" font-size="12.5" text-anchor="middle" font-weight="bold" fill="#111" textLength="91.2" lengthAdjust="spacingAndGlyphs">Switchable TSC</text>
<circle cx="592.9" cy="424.6" r="7.6" fill="#f2a98a"/>
<circle cx="616.9" cy="424.6" r="7.6" fill="#f2a98a"/>
<circle cx="619.6" cy="502.9" r="7.6" fill="#f2a98a"/>
<circle cx="643.9" cy="502.9" r="7.6" fill="#f2a98a"/>
<g transform="rotate(-12 605.4 474.8)"><rect x="599.65" y="403.20" width="11.5" height="83.60000000000002" fill="#aee0f8" stroke="#6cc0ec" stroke-width="0.9" opacity="0.8"/></g>
<g transform="rotate(-12 632.3 453.1)"><rect x="626.55" y="441.10" width="11.5" height="83.19999999999993" fill="#aee0f8" stroke="#6cc0ec" stroke-width="0.9" opacity="0.8"/></g>
<g transform="rotate(12 605.4 474.8)"><rect x="599.65" y="403.20" width="11.5" height="83.60000000000002" fill="#aee0f8" stroke="#6cc0ec" stroke-width="0.9" opacity="0.8"/></g>
<g transform="rotate(12 632.3 453.1)"><rect x="626.55" y="441.10" width="11.5" height="83.19999999999993" fill="#aee0f8" stroke="#6cc0ec" stroke-width="0.9" opacity="0.8"/></g>
<rect x="594.7" y="458.4" width="47.9" height="10.6" fill="#a7a3a3" stroke="#6e6e6e" stroke-width="1"/>
<rect x="599.70" y="403.2" width="11.4" height="83.6" fill="url(#blueBar)" stroke="#0c72c0" stroke-width="0.9"/>
<rect x="626.60" y="441.1" width="11.4" height="83.2" fill="url(#blueBar)" stroke="#0c72c0" stroke-width="0.9"/>
<g filter="url(#blur3)" opacity="0.95"><ellipse cx="619" cy="462" rx="31" ry="11" fill="#1c1cff" transform="rotate(40 619 462)"/><rect x="600" y="443" width="11" height="28" fill="#1c2cff"/><rect x="627" y="455" width="11" height="28" fill="#1c2cff"/></g>
<circle cx="605.4" cy="463.6" r="3.8" fill="#1b3ca0"/><circle cx="632.3" cy="463.6" r="3.8" fill="#1b3ca0"/>
<circle cx="592.9" cy="424.6" r="7.0" fill="#b4b4b4" opacity="0.6"/>
<circle cx="616.9" cy="424.6" r="7.0" fill="#b4b4b4" opacity="0.6"/>
<circle cx="619.6" cy="502.9" r="7.0" fill="#b4b4b4" opacity="0.6"/>
<circle cx="643.9" cy="502.9" r="7.0" fill="#b4b4b4" opacity="0.6"/>
<circle cx="605.3" cy="424.6" r="7.4" fill="none" stroke="#e8803a" stroke-width="1" stroke-dasharray="1.5,1.2"/>
<circle cx="631.9" cy="502.9" r="7.4" fill="none" stroke="#e8803a" stroke-width="1" stroke-dasharray="1.5,1.2"/>
<path d="M595.88,440.49 A12.4,12.4 0 0 1 613.52,440.49" fill="none" stroke="#1565a6" stroke-width="3.0"/>
<polygon points="593.75,443.38 593.88,438.52 597.87,442.46" fill="#1565a6"/>
<polygon points="615.65,443.38 615.52,438.52 611.53,442.46" fill="#1565a6"/>
<path d="M622.49,488.04 A13.6,13.6 0 0 0 639.91,488.04" fill="none" stroke="#1565a6" stroke-width="3.0"/>
<polygon points="620.06,485.40 620.69,490.20 624.29,485.89" fill="#1565a6"/>
<polygon points="642.34,485.40 641.71,490.20 638.11,485.89" fill="#1565a6"/>
<text x="623.4" y="549.5" font-size="12.5" text-anchor="middle" textLength="103.5" lengthAdjust="spacingAndGlyphs">11-NB-8DMe-<tspan font-style="italic">anti</tspan></text>
<text x="616.5" y="576.7" font-size="12.5" text-anchor="middle" font-weight="bold" fill="#1010ee" textLength="28.5" lengthAdjust="spacingAndGlyphs">Rigid</text>
<text x="616.7" y="593.2" font-size="12.5" text-anchor="middle" font-weight="bold" fill="#1010ee" textLength="62.3" lengthAdjust="spacingAndGlyphs">Stable TSC</text>
</svg></body></html>
